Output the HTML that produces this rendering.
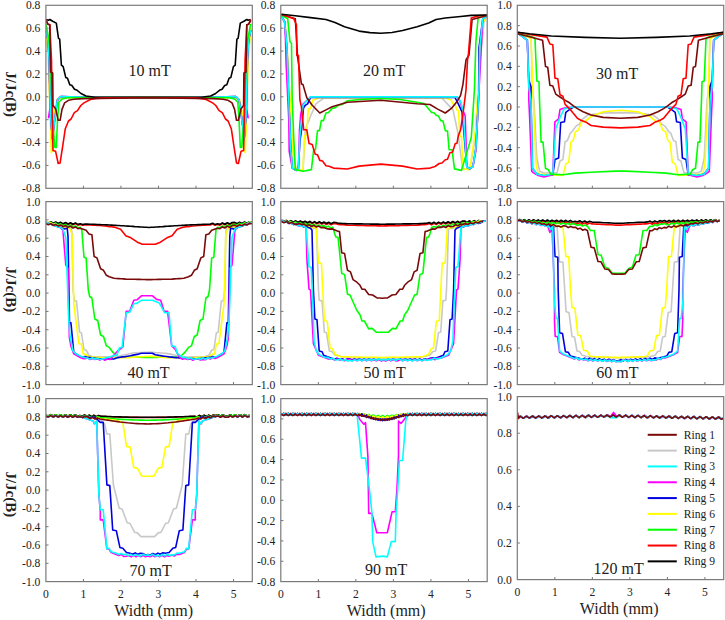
<!DOCTYPE html>
<html><head><meta charset="utf-8"><style>
html,body{margin:0;padding:0;background:#fff;width:725px;height:620px;overflow:hidden}
svg{display:block}
text{font-family:"Liberation Serif",serif;fill:#222}
.tl{font-size:11.6px}
.xl{font-size:16px}
.yl{font-size:15px;font-weight:bold}
.pl{font-size:16px}
.lg{font-size:11.6px}
.ax{stroke:#777;stroke-width:1}
.fr{fill:none;stroke:#7a7a7a;stroke-width:1.2}
.cv{fill:none;stroke-width:1.6;stroke-linejoin:round}
</style></head><body>
<svg width="725" height="620" viewBox="0 0 725 620">
<clipPath id="cp00"><rect x="45.9" y="5.3" width="206.4" height="183.0"/></clipPath>
<clipPath id="cp01"><rect x="280.8" y="5.3" width="206.4" height="183.0"/></clipPath>
<clipPath id="cp02"><rect x="517.3" y="5.3" width="206.4" height="183.0"/></clipPath>
<clipPath id="cp10"><rect x="45.9" y="201.6" width="206.4" height="183.0"/></clipPath>
<clipPath id="cp11"><rect x="280.8" y="201.6" width="206.4" height="183.0"/></clipPath>
<clipPath id="cp12"><rect x="517.3" y="201.6" width="206.4" height="183.0"/></clipPath>
<clipPath id="cp20"><rect x="45.9" y="398.6" width="206.4" height="183.0"/></clipPath>
<clipPath id="cp21"><rect x="280.8" y="398.6" width="206.4" height="183.0"/></clipPath>
<clipPath id="cp22"><rect x="517.3" y="396.6" width="206.4" height="183.0"/></clipPath>
<text x="40.4" y="192.20" class="tl" text-anchor="end">-0.8</text>
<line x1="45.9" y1="165.43" x2="48.5" y2="165.43" class="ax"/>
<text x="40.4" y="169.33" class="tl" text-anchor="end">-0.6</text>
<line x1="45.9" y1="142.55" x2="48.5" y2="142.55" class="ax"/>
<text x="40.4" y="146.45" class="tl" text-anchor="end">-0.4</text>
<line x1="45.9" y1="119.67" x2="48.5" y2="119.67" class="ax"/>
<text x="40.4" y="123.58" class="tl" text-anchor="end">-0.2</text>
<line x1="45.9" y1="96.80" x2="48.5" y2="96.80" class="ax"/>
<text x="40.4" y="100.70" class="tl" text-anchor="end">0.0</text>
<line x1="45.9" y1="73.93" x2="48.5" y2="73.93" class="ax"/>
<text x="40.4" y="77.83" class="tl" text-anchor="end">0.2</text>
<line x1="45.9" y1="51.05" x2="48.5" y2="51.05" class="ax"/>
<text x="40.4" y="54.95" class="tl" text-anchor="end">0.4</text>
<line x1="45.9" y1="28.18" x2="48.5" y2="28.18" class="ax"/>
<text x="40.4" y="32.08" class="tl" text-anchor="end">0.6</text>
<text x="40.4" y="9.20" class="tl" text-anchor="end">0.8</text>
<line x1="83.43" y1="188.3" x2="83.43" y2="185.70000000000002" class="ax"/>
<line x1="120.95" y1="188.3" x2="120.95" y2="185.70000000000002" class="ax"/>
<line x1="158.48" y1="188.3" x2="158.48" y2="185.70000000000002" class="ax"/>
<line x1="196.01" y1="188.3" x2="196.01" y2="185.70000000000002" class="ax"/>
<line x1="233.54" y1="188.3" x2="233.54" y2="185.70000000000002" class="ax"/>
<polyline clip-path="url(#cp00)" points="45.9,28.0 48.0,50.0 50.5,120.0 52.0,149.6 54.0,125.0 55.6,105.3 59.0,99.0 70.0,97.8 148.3,97.4 226.6,97.8 237.6,99.0 241.0,105.3 242.6,125.0 244.6,149.6 246.1,120.0 248.6,50.0 250.7,28.0" stroke="#c8c8c8" class="cv"/>
<polyline clip-path="url(#cp00)" points="45.9,28.0 48.5,60.0 50.5,130.0 51.3,152.5 52.7,151.0 54.2,114.0 57.1,99.5 61.4,97.6 148.3,97.4 235.2,97.6 239.5,99.5 242.4,114.0 243.9,151.0 245.3,152.5 246.1,130.0 248.1,60.0 250.7,28.0" stroke="#ffff00" class="cv"/>
<polyline clip-path="url(#cp00)" points="45.9,30.0 48.0,40.0 49.2,60.0 50.5,114.0 52.4,139.0 54.0,125.0 57.5,99.7 60.8,96.5 70.0,96.8 100.0,97.5 148.3,97.4 196.6,97.5 226.6,96.8 235.8,96.5 239.1,99.7 242.6,125.0 244.2,139.0 246.1,114.0 247.4,60.0 248.6,40.0 250.7,30.0" stroke="#0000e0" class="cv"/>
<polyline clip-path="url(#cp00)" points="45.9,30.0 48.0,40.0 49.2,60.0 50.0,108.0 48.5,117.7 50.5,114.0 52.4,139.0 54.0,125.0 57.5,99.7 60.8,96.5 70.0,96.8 100.0,97.5 148.3,97.4 196.6,97.5 226.6,96.8 235.8,96.5 239.1,99.7 242.6,125.0 244.2,139.0 246.1,114.0 248.1,117.7 246.6,108.0 247.4,60.0 248.6,40.0 250.7,30.0" stroke="#ff00ff" class="cv"/>
<polyline clip-path="url(#cp00)" points="45.9,30.0 48.0,40.0 49.2,60.0 50.5,114.0 52.4,139.0 54.0,125.0 57.5,99.7 60.8,96.5 70.0,96.8 100.0,97.5 148.3,97.4 196.6,97.5 226.6,96.8 235.8,96.5 239.1,99.7 242.6,125.0 244.2,139.0 246.1,114.0 247.4,60.0 248.6,40.0 250.7,30.0" stroke="#00ffff" class="cv"/>
<polyline clip-path="url(#cp00)" points="45.9,24.0 49.0,40.0 50.5,60.0 52.5,120.0 54.9,147.4 56.3,147.4 57.5,121.0 58.8,102.3 62.0,99.0 67.2,97.7 148.3,97.4 229.4,97.7 234.6,99.0 237.8,102.3 239.1,121.0 240.3,147.4 241.7,147.4 244.1,120.0 246.1,60.0 247.6,40.0 250.7,24.0" stroke="#00ff00" class="cv"/>
<polyline clip-path="url(#cp00)" points="45.9,19.5 48.4,20.2 49.8,19.5 52.7,21.3 56.3,23.1 58.5,38.4 59.7,39.1 61.4,65.2 63.2,66.7 65.8,77.6 67.5,78.3 69.8,84.8 71.9,85.5 74.5,89.2 76.6,89.9 81.0,93.5 86.0,96.0 95.0,97.2 148.3,97.3 201.6,97.2 210.6,96.0 215.6,93.5 220.0,89.9 222.1,89.2 224.7,85.5 226.8,84.8 229.1,78.3 230.8,77.6 233.4,66.7 235.2,65.2 236.9,39.1 238.1,38.4 240.3,23.1 243.9,21.3 246.8,19.5 248.2,20.2 250.7,19.5" stroke="#000000" class="cv"/>
<polyline clip-path="url(#cp00)" points="45.9,19.6 47.9,24.2 49.8,24.7 51.5,60.0 52.4,120.0 53.0,150.6 55.6,151.3 58.2,163.5 60.1,162.9 62.7,146.1 65.3,128.7 68.5,121.0 71.1,119.0 74.3,112.6 77.5,110.6 80.8,105.5 84.0,102.9 90.4,99.5 96.2,98.4 105.0,97.9 148.3,97.5 191.6,97.9 200.4,98.4 206.2,99.5 212.6,102.9 215.8,105.5 219.1,110.6 222.3,112.6 225.5,119.0 228.1,121.0 231.3,128.7 233.9,146.1 236.5,162.9 238.4,163.5 241.0,151.3 243.6,150.6 244.2,120.0 245.1,60.0 246.8,24.7 248.7,24.2 250.7,19.6" stroke="#ff0000" class="cv"/>
<polyline clip-path="url(#cp00)" points="45.9,20.3 47.9,24.2 49.8,24.7 50.6,72.1 52.7,73.0 53.0,105.5 55.6,108.7 58.2,120.3 60.1,120.3 62.0,109.4 64.6,102.9 68.5,100.3 73.7,99.2 82.7,98.6 148.3,97.8 213.9,98.6 222.9,99.2 228.1,100.3 232.0,102.9 234.6,109.4 236.5,120.3 238.4,120.3 241.0,108.7 243.6,105.5 243.9,73.0 246.0,72.1 246.8,24.7 248.7,24.2 250.7,20.3" stroke="#7a0a0a" class="cv"/>
<rect x="45.9" y="5.3" width="206.4" height="183.0" class="fr"/>
<text x="128.5" y="75.8" class="pl">10 mT</text>
<text x="275.3" y="192.20" class="tl" text-anchor="end">-0.8</text>
<line x1="280.8" y1="165.43" x2="283.40000000000003" y2="165.43" class="ax"/>
<text x="275.3" y="169.33" class="tl" text-anchor="end">-0.6</text>
<line x1="280.8" y1="142.55" x2="283.40000000000003" y2="142.55" class="ax"/>
<text x="275.3" y="146.45" class="tl" text-anchor="end">-0.4</text>
<line x1="280.8" y1="119.67" x2="283.40000000000003" y2="119.67" class="ax"/>
<text x="275.3" y="123.58" class="tl" text-anchor="end">-0.2</text>
<line x1="280.8" y1="96.80" x2="283.40000000000003" y2="96.80" class="ax"/>
<text x="275.3" y="100.70" class="tl" text-anchor="end">0.0</text>
<line x1="280.8" y1="73.93" x2="283.40000000000003" y2="73.93" class="ax"/>
<text x="275.3" y="77.83" class="tl" text-anchor="end">0.2</text>
<line x1="280.8" y1="51.05" x2="283.40000000000003" y2="51.05" class="ax"/>
<text x="275.3" y="54.95" class="tl" text-anchor="end">0.4</text>
<line x1="280.8" y1="28.18" x2="283.40000000000003" y2="28.18" class="ax"/>
<text x="275.3" y="32.08" class="tl" text-anchor="end">0.6</text>
<text x="275.3" y="9.20" class="tl" text-anchor="end">0.8</text>
<line x1="318.33" y1="188.3" x2="318.33" y2="185.70000000000002" class="ax"/>
<line x1="355.85" y1="188.3" x2="355.85" y2="185.70000000000002" class="ax"/>
<line x1="393.38" y1="188.3" x2="393.38" y2="185.70000000000002" class="ax"/>
<line x1="430.91" y1="188.3" x2="430.91" y2="185.70000000000002" class="ax"/>
<line x1="468.44" y1="188.3" x2="468.44" y2="185.70000000000002" class="ax"/>
<polyline clip-path="url(#cp01)" points="281.4,16.0 285.0,22.0 288.0,60.0 292.0,150.0 296.0,168.0 303.0,170.4 305.3,129.8 310.6,116.0 316.0,103.8 324.4,97.7 440.0,97.7 442.3,98.4 453.0,109.9 457.6,131.3 462.9,169.6 470.0,168.0 475.0,140.0 480.0,60.0 484.0,22.0 487.4,16.0" stroke="#c8c8c8" class="cv"/>
<polyline clip-path="url(#cp01)" points="281.4,16.0 285.0,22.0 288.5,70.0 293.8,166.6 299.9,170.4 303.0,169.6 304.5,135.9 306.5,135.5 308.3,109.1 310.5,108.5 312.9,100.0 315.0,99.5 318.3,97.7 446.0,97.7 448.4,99.2 451.0,99.8 453.0,103.8 455.0,104.2 456.8,109.9 458.5,110.5 459.9,135.9 461.5,136.5 462.9,168.9 469.8,169.6 475.9,126.8 479.0,70.0 483.0,22.0 487.4,16.0" stroke="#ffff00" class="cv"/>
<polyline clip-path="url(#cp01)" points="281.4,16.0 284.6,21.8 286.9,47.9 288.4,90.0 290.7,148.2 292.3,168.1 296.1,170.4 298.4,168.1 300.0,140.0 301.4,131.3 303.5,108.0 305.3,105.3 307.6,103.8 310.6,97.5 455.0,97.5 458.3,103.8 462.0,112.0 463.7,129.8 466.8,166.6 469.8,168.9 472.9,166.6 475.9,148.2 479.0,90.0 479.0,47.9 482.8,18.8 487.4,16.0" stroke="#0000e0" class="cv"/>
<polyline clip-path="url(#cp01)" points="281.4,16.0 284.6,21.8 285.5,40.0 286.1,63.2 288.8,120.0 289.2,151.3 292.3,168.1 296.1,170.4 298.4,168.1 299.5,130.0 300.7,114.5 303.0,104.0 306.8,100.7 310.6,96.9 457.0,97.0 459.9,100.7 462.0,108.0 465.2,116.0 466.8,166.6 469.8,168.9 472.9,166.6 475.9,150.5 479.0,90.0 480.5,63.2 482.8,18.8 487.4,16.0" stroke="#ff00ff" class="cv"/>
<polyline clip-path="url(#cp01)" points="281.4,16.0 284.6,21.8 286.9,46.3 288.4,90.0 290.7,148.2 292.3,168.1 296.1,170.4 298.4,168.1 299.9,135.9 303.0,105.3 306.8,100.7 310.6,96.9 457.6,96.9 460.6,101.5 462.9,109.9 466.8,166.6 469.8,168.9 472.9,166.6 475.9,148.2 479.0,90.0 479.8,46.3 482.8,18.8 487.4,16.0" stroke="#00ffff" class="cv"/>
<polyline clip-path="url(#cp01)" points="281.4,15.0 287.7,18.8 290.0,41.8 291.5,43.3 292.2,100.0 293.8,139.0 295.3,169.6 303.0,171.2 311.4,169.6 313.7,149.7 315.5,149.7 317.5,130.6 319.5,130.6 321.3,120.6 323.5,120.6 325.9,113.0 328.5,112.5 332.1,108.4 335.0,107.8 338.7,105.1 342.0,104.5 347.4,100.8 360.0,99.5 380.8,98.5 400.0,99.5 417.1,102.2 424.0,103.5 427.0,107.0 431.6,112.4 434.0,112.8 436.1,115.3 438.5,116.0 440.7,120.6 443.0,121.0 445.3,130.6 447.5,131.0 449.1,149.7 452.0,149.7 454.5,168.9 461.4,170.4 471.3,137.5 474.4,90.0 475.9,41.8 478.2,17.3 487.4,15.0" stroke="#00ff00" class="cv"/>
<polyline clip-path="url(#cp01)" points="281.4,14.5 295.3,18.8 297.6,57.0 301.4,83.9 303.0,84.6 306.8,97.7 312.2,105.3 319.8,113.0 326.0,109.9 332.1,106.8 347.4,102.2 380.8,100.2 417.1,103.7 430.0,104.5 437.7,109.1 445.3,113.0 451.4,108.4 457.6,100.7 460.6,95.4 462.9,84.6 466.0,60.0 469.0,55.0 472.1,19.5 487.4,15.5" stroke="#7a0a0a" class="cv"/>
<polyline clip-path="url(#cp01)" points="281.5,14.2 293.8,18.8 296.5,25.0 296.8,55.5 298.5,55.5 299.9,100.0 301.4,106.8 303.7,129.8 306.8,129.8 309.1,143.6 312.2,144.4 315.2,154.3 317.5,154.8 319.8,160.4 322.5,161.0 326.0,165.8 329.0,166.3 333.6,168.1 347.4,169.0 359.0,166.1 380.8,164.1 402.6,166.1 417.1,169.0 430.0,168.1 435.0,166.5 439.2,163.5 442.0,163.0 445.3,159.7 447.5,159.2 449.9,152.8 452.5,152.3 455.3,143.6 457.0,143.2 458.3,135.9 460.6,129.8 463.7,108.4 466.0,90.0 467.5,60.1 468.3,55.5 471.3,18.0 480.0,15.5 487.4,15.5" stroke="#ff0000" class="cv"/>
<polyline clip-path="url(#cp01)" points="281.5,14.2 295.3,15.7 310.6,17.6 326.0,19.5 335.0,22.5 344.5,26.8 359.0,31.1 370.0,32.6 380.8,33.2 392.0,32.5 402.6,30.5 417.1,26.8 428.7,23.0 436.1,19.5 445.3,18.0 460.6,16.5 471.3,15.4 487.4,15.0" stroke="#000000" class="cv"/>
<rect x="280.8" y="5.3" width="206.4" height="183.0" class="fr"/>
<text x="363.0" y="76.1" class="pl">20 mT</text>
<text x="511.79999999999995" y="192.20" class="tl" text-anchor="end">-0.8</text>
<line x1="517.3" y1="167.97" x2="519.9" y2="167.97" class="ax"/>
<text x="511.79999999999995" y="171.87" class="tl" text-anchor="end">-0.6</text>
<line x1="517.3" y1="147.63" x2="519.9" y2="147.63" class="ax"/>
<text x="511.79999999999995" y="151.53" class="tl" text-anchor="end">-0.4</text>
<line x1="517.3" y1="127.30" x2="519.9" y2="127.30" class="ax"/>
<text x="511.79999999999995" y="131.20" class="tl" text-anchor="end">-0.2</text>
<line x1="517.3" y1="106.97" x2="519.9" y2="106.97" class="ax"/>
<text x="511.79999999999995" y="110.87" class="tl" text-anchor="end">0.0</text>
<line x1="517.3" y1="86.63" x2="519.9" y2="86.63" class="ax"/>
<text x="511.79999999999995" y="90.53" class="tl" text-anchor="end">0.2</text>
<line x1="517.3" y1="66.30" x2="519.9" y2="66.30" class="ax"/>
<text x="511.79999999999995" y="70.20" class="tl" text-anchor="end">0.4</text>
<line x1="517.3" y1="45.97" x2="519.9" y2="45.97" class="ax"/>
<text x="511.79999999999995" y="49.87" class="tl" text-anchor="end">0.6</text>
<line x1="517.3" y1="25.63" x2="519.9" y2="25.63" class="ax"/>
<text x="511.79999999999995" y="29.53" class="tl" text-anchor="end">0.8</text>
<text x="511.79999999999995" y="9.20" class="tl" text-anchor="end">1.0</text>
<line x1="554.83" y1="188.3" x2="554.83" y2="185.70000000000002" class="ax"/>
<line x1="592.35" y1="188.3" x2="592.35" y2="185.70000000000002" class="ax"/>
<line x1="629.88" y1="188.3" x2="629.88" y2="185.70000000000002" class="ax"/>
<line x1="667.41" y1="188.3" x2="667.41" y2="185.70000000000002" class="ax"/>
<line x1="704.94" y1="188.3" x2="704.94" y2="185.70000000000002" class="ax"/>
<polyline clip-path="url(#cp02)" points="517.5,33.0 531.0,38.2 532.5,90.0 533.9,100.0 536.8,158.1 539.7,171.2 544.0,173.0 557.1,172.6 560.0,161.0 562.9,159.5 565.1,141.4 567.3,140.7 570.2,133.4 572.4,131.2 576.0,126.1 579.6,124.0 581.5,119.8 587.9,115.0 603.0,113.0 620.5,112.6 638.0,113.0 653.1,115.0 659.5,119.8 661.4,124.0 665.0,126.1 668.6,131.2 670.8,133.4 673.7,140.7 675.9,141.4 678.1,159.5 681.0,161.0 683.9,172.6 697.0,173.0 701.3,171.2 704.2,158.1 707.1,100.0 708.5,90.0 710.0,38.2 723.5,33.0" stroke="#c8c8c8" class="cv"/>
<polyline clip-path="url(#cp02)" points="517.5,33.0 531.0,38.2 533.2,100.0 536.1,163.9 538.2,174.1 562.9,175.5 565.8,163.9 568.7,162.4 570.9,142.1 573.1,140.7 575.3,131.9 578.2,130.3 581.8,121.8 584.7,121.5 591.1,116.6 603.2,111.8 620.5,110.2 637.8,111.8 649.9,116.6 656.3,121.5 659.2,121.8 662.8,130.3 665.7,131.9 667.9,140.7 670.1,142.1 672.3,162.4 675.2,163.9 678.1,175.5 702.8,174.1 704.9,163.9 707.8,100.0 710.0,38.2 723.5,33.0" stroke="#ffff00" class="cv"/>
<polyline clip-path="url(#cp02)" points="517.5,33.0 523.7,37.4 527.3,40.3 528.8,80.0 531.0,86.8 531.0,100.0 532.4,168.3 536.8,174.1 544.0,175.8 552.8,174.8 555.0,159.5 558.6,158.1 560.7,122.5 564.4,121.8 565.8,112.3 568.7,110.2 573.1,107.3 620.5,107.3 667.9,107.3 672.3,110.2 675.2,112.3 676.6,121.8 680.3,122.5 682.4,158.1 686.0,159.5 688.2,174.8 697.0,175.8 704.2,174.1 708.6,168.3 710.0,100.0 710.0,86.8 712.2,80.0 713.7,40.3 717.3,37.4 723.5,33.0" stroke="#0000e0" class="cv"/>
<polyline clip-path="url(#cp02)" points="517.5,33.0 523.7,37.4 527.3,40.3 528.8,86.8 528.8,100.0 529.5,114.5 531.7,171.2 533.2,172.6 538.2,175.5 544.0,177.0 552.8,174.8 554.9,121.8 558.6,118.9 560.0,109.4 564.4,108.0 570.2,107.3 620.5,107.3 670.8,107.3 676.6,108.0 681.0,109.4 682.4,118.9 686.1,121.8 688.2,174.8 697.0,177.0 702.8,175.5 707.8,172.6 709.3,171.2 711.5,114.5 712.2,100.0 712.2,86.8 713.7,40.3 717.3,37.4 723.5,33.0" stroke="#ff00ff" class="cv"/>
<polyline clip-path="url(#cp02)" points="517.5,33.0 523.7,37.4 527.3,40.3 528.8,86.8 531.0,100.0 532.4,168.3 536.8,174.1 544.0,175.5 552.8,174.1 555.7,129.0 560.0,117.4 564.4,108.7 573.1,107.0 620.5,107.0 667.9,107.0 676.6,108.7 681.0,117.4 685.3,129.0 688.2,174.1 697.0,175.5 704.2,174.1 708.6,168.3 710.0,100.0 712.2,86.8 713.7,40.3 717.3,37.4 723.5,33.0" stroke="#00ffff" class="cv"/>
<polyline clip-path="url(#cp02)" points="517.5,33.1 533.9,37.4 535.0,39.0 536.8,81.0 539.0,81.7 539.5,100.0 541.1,142.1 543.0,142.1 545.5,168.3 548.4,169.7 550.6,174.1 562.9,174.8 575.0,173.1 591.1,172.3 615.3,171.1 620.5,171.1 625.7,171.1 649.9,172.3 666.0,173.1 678.1,174.8 690.4,174.1 692.6,169.7 695.5,168.3 698.0,142.1 699.9,142.1 701.5,100.0 702.0,81.7 704.2,81.0 706.0,39.0 707.1,37.4 723.5,33.1" stroke="#00ff00" class="cv"/>
<polyline clip-path="url(#cp02)" points="517.5,33.8 529.5,36.7 542.6,40.3 545.5,66.5 547.7,67.2 549.9,85.3 552.8,86.1 555.7,94.1 560.0,97.0 564.4,99.9 569.5,102.8 573.1,105.7 577.4,108.6 583.1,111.8 591.1,115.0 603.2,117.4 620.5,118.2 637.8,117.4 649.9,115.0 657.9,111.8 663.6,108.6 667.9,105.7 671.5,102.8 676.6,99.9 681.0,97.0 685.3,94.1 688.2,86.1 691.1,85.3 693.3,67.2 695.5,66.5 698.4,40.3 711.5,36.7 723.5,33.8" stroke="#7a0a0a" class="cv"/>
<polyline clip-path="url(#cp02)" points="517.5,32.3 529.5,34.5 547.0,37.1 549.9,44.0 552.8,44.7 555.0,78.1 557.8,78.8 560.0,94.8 562.9,96.2 565.1,104.4 570.2,109.4 573.1,113.1 577.4,118.2 581.5,120.6 586.3,122.3 591.1,125.5 603.2,127.1 620.5,127.9 637.8,127.1 649.9,125.5 654.7,122.3 659.5,120.6 663.6,118.2 667.9,113.1 670.8,109.4 675.9,104.4 678.1,96.2 681.0,94.8 683.2,78.8 686.0,78.1 688.2,44.7 691.1,44.0 694.0,37.1 711.5,34.5 723.5,32.3" stroke="#ff0000" class="cv"/>
<polyline clip-path="url(#cp02)" points="517.5,32.3 529.5,33.8 551.3,36.0 585.0,37.4 620.5,38.2 656.0,37.4 689.7,36.0 711.5,33.8 723.5,32.3" stroke="#000000" class="cv"/>
<rect x="517.3" y="5.3" width="206.4" height="183.0" class="fr"/>
<text x="596.0" y="78.8" class="pl">30 mT</text>
<text x="40.4" y="388.50" class="tl" text-anchor="end">-1.0</text>
<line x1="45.9" y1="366.30" x2="48.5" y2="366.30" class="ax"/>
<text x="40.4" y="370.20" class="tl" text-anchor="end">-0.8</text>
<line x1="45.9" y1="348.00" x2="48.5" y2="348.00" class="ax"/>
<text x="40.4" y="351.90" class="tl" text-anchor="end">-0.6</text>
<line x1="45.9" y1="329.70" x2="48.5" y2="329.70" class="ax"/>
<text x="40.4" y="333.60" class="tl" text-anchor="end">-0.4</text>
<line x1="45.9" y1="311.40" x2="48.5" y2="311.40" class="ax"/>
<text x="40.4" y="315.30" class="tl" text-anchor="end">-0.2</text>
<line x1="45.9" y1="293.10" x2="48.5" y2="293.10" class="ax"/>
<text x="40.4" y="297.00" class="tl" text-anchor="end">0.0</text>
<line x1="45.9" y1="274.80" x2="48.5" y2="274.80" class="ax"/>
<text x="40.4" y="278.70" class="tl" text-anchor="end">0.2</text>
<line x1="45.9" y1="256.50" x2="48.5" y2="256.50" class="ax"/>
<text x="40.4" y="260.40" class="tl" text-anchor="end">0.4</text>
<line x1="45.9" y1="238.20" x2="48.5" y2="238.20" class="ax"/>
<text x="40.4" y="242.10" class="tl" text-anchor="end">0.6</text>
<line x1="45.9" y1="219.90" x2="48.5" y2="219.90" class="ax"/>
<text x="40.4" y="223.80" class="tl" text-anchor="end">0.8</text>
<text x="40.4" y="205.50" class="tl" text-anchor="end">1.0</text>
<line x1="83.43" y1="384.6" x2="83.43" y2="382.0" class="ax"/>
<line x1="120.95" y1="384.6" x2="120.95" y2="382.0" class="ax"/>
<line x1="158.48" y1="384.6" x2="158.48" y2="382.0" class="ax"/>
<line x1="196.01" y1="384.6" x2="196.01" y2="382.0" class="ax"/>
<line x1="233.54" y1="384.6" x2="233.54" y2="382.0" class="ax"/>
<polyline clip-path="url(#cp10)" points="45.9,223.1 48.4,223.9 50.8,222.6 53.3,224.1 55.7,222.8 58.2,224.3 60.6,223.0 63.1,224.5 65.6,223.2 68.0,224.7 70.5,223.4 72.9,224.9 75.4,223.6 77.8,225.1 80.3,224.5 82.8,225.3 85.2,224.8 87.7,224.9 90.2,225.0 92.6,225.1 95.1,225.2 97.5,225.4 100.0,225.5 102.3,225.8 104.7,226.0 107.0,226.3 109.3,226.6 111.7,226.8 114.0,227.1 120.6,229.3 125.8,235.8 130.9,237.8 137.4,242.2 142.5,244.3 145.7,244.3 148.9,244.3 152.1,244.3 155.3,244.3 160.4,242.2 166.9,237.8 172.0,235.8 177.2,229.3 183.8,227.1 186.1,226.8 188.5,226.6 190.8,226.3 193.1,226.0 195.5,225.8 197.8,225.5 200.3,225.4 202.7,225.2 205.2,225.1 207.7,225.0 210.1,224.9 212.6,224.1 215.0,225.3 217.5,224.5 220.0,225.1 222.4,223.6 224.9,224.9 227.3,223.4 229.8,224.7 232.2,223.2 234.7,223.1 237.2,224.4 239.6,222.9 242.1,224.2 244.5,222.7 247.0,224.0 249.4,222.5 251.9,223.1" stroke="#ff0000" class="cv"/>
<polyline clip-path="url(#cp10)" points="45.9,222.3 48.4,223.1 50.8,221.8 53.3,223.3 55.7,222.0 58.2,223.5 60.6,222.2 63.1,223.8 65.6,222.5 68.0,224.0 70.5,222.7 72.9,224.2 75.4,222.9 77.8,224.4 80.3,223.8 82.7,224.6 85.1,224.0 87.5,224.1 89.9,224.2 92.3,224.3 94.7,224.4 97.2,224.5 99.6,224.6 102.0,224.7 104.4,224.8 106.8,224.9 109.2,225.0 111.6,225.1 114.0,225.2 116.3,225.4 118.7,225.5 121.0,225.7 123.3,225.8 125.6,226.0 128.0,226.1 130.3,226.3 132.6,226.4 134.9,226.6 137.3,226.7 139.6,226.9 141.9,227.0 144.2,227.2 146.6,227.3 148.9,227.5 151.2,227.3 153.6,227.2 155.9,227.0 158.2,226.9 160.5,226.7 162.9,226.6 165.2,226.4 167.5,226.3 169.8,226.1 172.2,226.0 174.5,225.8 176.8,225.7 179.1,225.5 181.5,225.4 183.8,225.2 186.2,225.1 188.6,225.0 191.0,224.9 193.4,224.8 195.8,224.7 198.2,224.6 200.7,224.5 203.1,224.4 205.5,224.3 207.9,224.2 210.3,224.1 212.7,223.3 215.1,224.6 217.5,223.8 220.0,224.4 222.4,222.9 224.9,224.2 227.3,222.7 229.8,224.0 232.2,222.5 234.7,222.4 237.2,223.6 239.6,222.1 242.1,223.4 244.5,221.9 247.0,223.2 249.4,221.7 251.9,222.3" stroke="#000000" class="cv"/>
<polyline clip-path="url(#cp10)" points="45.9,222.3 48.4,223.4 50.8,222.3 53.3,224.1 55.7,223.1 58.2,224.8 60.6,223.8 63.1,225.6 65.6,224.5 68.0,226.3 70.5,225.2 72.9,227.0 75.4,226.0 77.8,227.7 80.3,227.4 81.8,229.6 84.0,257.2 86.1,257.9 88.3,290.0 89.7,296.5 91.9,298.0 94.8,319.0 97.7,320.5 100.6,335.0 103.5,336.5 106.4,345.9 109.3,347.4 113.0,352.4 118.0,357.0 120.5,357.0 122.9,357.1 125.4,357.1 127.8,357.2 130.3,357.2 132.8,357.2 135.2,357.3 137.7,357.3 140.2,357.3 142.6,357.4 145.1,357.4 147.5,357.5 150.0,357.5 152.3,357.5 154.6,357.4 156.9,357.4 159.2,357.3 161.5,357.3 163.8,357.3 166.2,357.2 168.5,357.2 170.8,357.2 173.1,357.1 175.4,357.1 177.7,357.0 180.0,357.0 184.8,352.4 188.5,347.4 191.4,345.9 194.3,336.5 197.2,335.0 200.1,320.5 203.0,319.0 205.9,298.0 208.1,296.5 209.5,290.0 211.7,257.9 213.8,257.2 216.0,229.6 217.5,227.4 220.0,227.7 222.4,226.0 224.9,227.0 227.3,225.2 229.8,226.3 232.2,224.5 234.7,224.2 237.2,225.2 239.6,223.4 242.1,224.5 244.5,222.7 247.0,223.7 249.4,222.0 251.9,222.3" stroke="#00ff00" class="cv"/>
<polyline clip-path="url(#cp10)" points="45.9,222.5 48.4,223.8 50.9,222.9 53.4,224.9 55.9,224.1 58.4,226.0 60.9,225.2 63.4,227.2 65.9,226.4 68.4,228.3 70.9,228.2 72.0,232.0 73.0,290.0 74.5,300.9 76.5,301.0 79.6,332.1 81.5,333.0 83.9,349.5 86.0,350.0 89.0,355.3 93.4,356.8 95.8,356.8 98.1,356.9 100.5,356.9 102.9,356.9 105.3,356.9 107.6,357.0 110.0,357.0 112.6,356.7 115.3,356.5 117.9,356.2 120.3,355.7 122.6,355.2 125.0,354.7 127.4,354.3 129.8,353.8 132.1,353.3 134.5,352.8 137.0,352.7 139.6,352.6 142.1,352.5 144.6,352.3 147.2,352.2 149.7,352.1 152.1,352.3 154.4,352.5 156.8,352.7 159.1,352.8 161.5,353.0 163.8,353.2 166.2,353.4 168.9,353.9 171.7,354.4 174.4,355.0 177.2,355.5 179.8,356.0 182.4,356.5 185.0,357.0 187.8,357.0 190.2,357.0 192.5,356.9 194.9,356.9 197.3,356.9 199.7,356.9 202.0,356.8 204.4,356.8 208.8,355.3 211.8,350.0 213.9,349.5 216.3,333.0 218.2,332.1 221.3,301.0 223.3,300.9 224.8,290.0 225.8,232.0 226.9,228.2 229.4,228.3 231.9,226.4 234.4,227.2 236.9,226.6 239.4,224.7 241.9,225.5 244.4,223.5 246.9,224.3 249.4,222.4 251.9,222.5" stroke="#c8c8c8" class="cv"/>
<polyline clip-path="url(#cp10)" points="45.9,222.5 48.2,222.4 50.6,222.9 53.0,224.9 55.3,224.1 57.7,226.0 60.0,225.2 62.4,227.2 64.7,226.4 67.1,228.3 69.4,228.2 72.0,234.0 73.8,303.8 78.9,343.7 81.5,344.0 83.2,353.9 86.0,354.5 89.0,356.8 91.3,356.9 93.7,357.1 96.0,357.2 98.3,357.3 100.7,357.5 103.0,357.6 105.3,357.7 107.7,357.9 110.0,358.0 112.5,357.9 115.0,357.9 117.5,357.8 120.1,357.8 122.6,357.7 125.1,357.7 127.6,357.6 130.1,357.4 132.5,357.3 135.0,357.1 137.4,357.0 139.9,356.8 142.3,356.7 144.8,356.5 147.2,356.4 149.7,356.2 152.1,356.4 154.4,356.6 156.8,356.8 159.1,357.0 161.5,357.2 163.8,357.4 166.2,357.6 168.6,357.6 171.0,357.7 173.4,357.7 175.8,357.8 178.2,357.8 180.6,357.9 183.0,357.9 185.4,358.0 187.8,358.0 190.1,357.9 192.5,357.7 194.8,357.6 197.1,357.5 199.5,357.3 201.8,357.2 204.1,357.1 206.5,356.9 208.8,356.8 211.8,354.5 214.6,353.9 216.3,344.0 218.9,343.7 224.0,303.8 225.8,234.0 228.4,228.2 230.8,226.9 233.1,227.8 235.5,225.8 237.8,226.6 240.2,224.7 242.5,225.5 244.8,223.5 247.2,224.3 249.6,222.4 251.9,222.5" stroke="#ffff00" class="cv"/>
<polyline clip-path="url(#cp10)" points="45.9,222.5 64.3,228.9 67.2,228.2 68.0,236.1 69.5,322.7 70.9,322.7 73.8,352.4 80.0,356.5 82.5,357.5 85.0,356.4 87.5,357.4 90.0,357.6 92.5,357.9 95.0,358.2 97.5,358.5 100.0,358.8 102.8,358.8 105.5,358.9 108.3,358.9 111.0,359.0 113.8,359.0 117.9,357.6 120.3,357.2 122.8,356.9 125.2,356.6 127.6,356.2 130.3,355.7 133.1,355.1 135.8,354.6 138.6,354.1 141.4,353.2 144.2,353.2 146.9,353.2 149.7,353.2 152.4,353.2 155.2,354.8 157.5,355.1 159.8,355.5 162.1,355.9 164.4,356.2 166.7,356.5 169.0,356.9 171.3,357.1 173.6,357.4 175.9,357.6 178.2,357.8 180.5,358.1 182.8,358.3 185.3,358.4 187.8,358.5 190.3,358.6 192.8,358.6 195.3,358.7 197.8,358.8 200.3,358.5 202.8,358.2 205.3,357.9 207.8,357.6 210.3,357.4 212.8,356.4 215.3,357.5 217.8,356.5 224.0,352.4 226.9,322.7 228.3,322.7 229.8,236.1 230.6,228.2 233.5,228.9 251.9,222.5" stroke="#0000e0" class="cv"/>
<polyline clip-path="url(#cp10)" points="45.9,222.5 60.0,227.0 62.9,230.3 65.8,265.2 68.0,268.0 68.5,300.0 69.4,337.9 70.9,345.9 73.8,353.9 80.3,357.5 82.7,358.5 85.1,358.8 87.5,357.8 90.0,359.5 92.4,358.4 94.8,359.4 97.3,358.7 99.9,360.1 102.4,358.8 104.9,360.2 107.5,358.8 110.0,359.5 117.9,350.7 122.8,347.2 126.2,311.4 129.7,311.4 133.8,300.3 137.2,299.7 141.4,295.8 144.2,295.8 146.9,295.8 149.7,295.8 152.4,295.8 156.6,299.4 160.7,300.3 164.1,311.4 167.6,311.4 171.7,345.9 175.2,349.3 180.0,358.0 182.6,359.2 185.2,358.3 187.8,359.5 190.3,358.8 192.9,360.2 195.4,358.8 197.9,358.7 200.5,360.1 203.0,359.4 205.4,359.8 207.8,358.1 210.2,359.1 212.7,357.4 215.1,358.5 217.5,357.5 224.0,353.9 226.9,345.9 228.4,337.9 229.3,300.0 229.8,268.0 232.0,265.2 234.9,230.3 237.8,227.0 251.9,222.5" stroke="#ff00ff" class="cv"/>
<polyline clip-path="url(#cp10)" points="45.9,222.5 60.0,227.4 62.9,228.9 65.8,237.6 68.0,300.0 68.7,320.0 70.1,336.5 73.0,351.0 76.0,353.9 81.8,356.8 87.6,358.3 90.0,359.1 92.4,357.8 94.8,359.3 97.3,358.1 99.7,359.6 102.1,359.0 117.2,354.8 119.3,347.9 122.1,347.2 126.2,312.8 129.7,312.1 133.8,303.8 137.2,303.1 141.4,300.3 144.2,300.3 146.9,300.3 149.7,300.3 152.4,300.3 159.3,303.1 164.8,312.8 169.0,312.8 171.7,345.9 175.2,346.6 177.2,353.4 182.8,357.6 185.4,357.2 188.0,358.9 190.5,357.7 193.1,359.4 195.7,359.0 198.1,358.2 200.5,359.5 203.0,357.9 205.4,359.2 207.8,357.7 210.2,358.3 216.0,356.8 221.8,353.9 224.8,351.0 227.7,336.5 229.1,320.0 229.8,300.0 232.0,237.6 234.9,228.9 237.8,227.4 251.9,222.5" stroke="#00ffff" class="cv"/>
<polyline clip-path="url(#cp10)" points="45.9,223.8 48.4,224.8 50.8,223.7 53.3,225.4 55.7,224.4 58.2,226.1 60.6,225.0 63.1,226.7 65.6,225.6 68.0,227.3 70.5,226.2 72.9,228.0 75.4,226.9 77.8,228.6 80.3,228.2 86.1,230.3 89.0,234.0 91.9,234.7 94.1,256.5 97.0,257.9 100.6,268.8 103.5,270.3 106.4,275.3 109.3,276.8 114.0,278.3 116.4,278.5 118.7,278.6 121.1,278.8 123.4,278.9 125.8,279.1 128.1,279.2 130.4,279.2 132.7,279.2 135.0,279.3 137.3,279.4 139.7,279.4 142.0,279.5 144.3,279.5 146.6,279.6 148.9,279.6 151.2,279.6 153.5,279.5 155.8,279.5 158.1,279.4 160.4,279.4 162.8,279.3 165.1,279.2 167.4,279.2 169.7,279.2 172.0,279.1 174.4,278.9 176.7,278.8 179.1,278.6 181.4,278.5 183.8,278.3 188.5,276.8 191.4,275.3 194.3,270.3 197.2,268.8 200.8,257.9 203.7,256.5 205.9,234.7 208.8,234.0 211.7,230.3 217.5,228.2 220.0,228.6 222.4,226.9 224.9,228.0 227.3,226.2 229.8,227.3 232.2,225.6 234.7,225.3 237.2,226.4 239.6,224.7 242.1,225.8 244.5,224.0 247.0,225.1 249.4,223.4 251.9,223.8" stroke="#7a0a0a" class="cv"/>
<rect x="45.9" y="201.6" width="206.4" height="183.0" class="fr"/>
<text x="127.4" y="377.6" class="pl">40 mT</text>
<text x="275.3" y="388.50" class="tl" text-anchor="end">-1.0</text>
<line x1="280.8" y1="366.30" x2="283.40000000000003" y2="366.30" class="ax"/>
<text x="275.3" y="370.20" class="tl" text-anchor="end">-0.8</text>
<line x1="280.8" y1="348.00" x2="283.40000000000003" y2="348.00" class="ax"/>
<text x="275.3" y="351.90" class="tl" text-anchor="end">-0.6</text>
<line x1="280.8" y1="329.70" x2="283.40000000000003" y2="329.70" class="ax"/>
<text x="275.3" y="333.60" class="tl" text-anchor="end">-0.4</text>
<line x1="280.8" y1="311.40" x2="283.40000000000003" y2="311.40" class="ax"/>
<text x="275.3" y="315.30" class="tl" text-anchor="end">-0.2</text>
<line x1="280.8" y1="293.10" x2="283.40000000000003" y2="293.10" class="ax"/>
<text x="275.3" y="297.00" class="tl" text-anchor="end">0.0</text>
<line x1="280.8" y1="274.80" x2="283.40000000000003" y2="274.80" class="ax"/>
<text x="275.3" y="278.70" class="tl" text-anchor="end">0.2</text>
<line x1="280.8" y1="256.50" x2="283.40000000000003" y2="256.50" class="ax"/>
<text x="275.3" y="260.40" class="tl" text-anchor="end">0.4</text>
<line x1="280.8" y1="238.20" x2="283.40000000000003" y2="238.20" class="ax"/>
<text x="275.3" y="242.10" class="tl" text-anchor="end">0.6</text>
<line x1="280.8" y1="219.90" x2="283.40000000000003" y2="219.90" class="ax"/>
<text x="275.3" y="223.80" class="tl" text-anchor="end">0.8</text>
<text x="275.3" y="205.50" class="tl" text-anchor="end">1.0</text>
<line x1="318.33" y1="384.6" x2="318.33" y2="382.0" class="ax"/>
<line x1="355.85" y1="384.6" x2="355.85" y2="382.0" class="ax"/>
<line x1="393.38" y1="384.6" x2="393.38" y2="382.0" class="ax"/>
<line x1="430.91" y1="384.6" x2="430.91" y2="382.0" class="ax"/>
<line x1="468.44" y1="384.6" x2="468.44" y2="382.0" class="ax"/>
<polyline clip-path="url(#cp11)" points="281.5,221.0 283.9,221.8 286.2,220.6 288.6,222.1 290.9,220.9 293.3,222.4 295.7,221.2 298.0,222.7 300.4,221.5 302.8,223.0 305.1,221.7 307.5,223.3 309.8,222.0 312.2,223.6 314.6,222.3 316.9,223.9 319.3,222.6 321.7,224.2 324.0,222.9 326.4,224.5 328.7,223.2 331.1,224.7 333.5,223.5 335.8,223.6 338.2,224.5 340.6,224.6 342.9,224.8 345.3,224.9 347.6,225.1 350.0,225.2 352.3,225.3 354.6,225.3 357.0,225.4 359.3,225.4 361.6,225.5 363.9,225.5 366.2,225.6 368.6,225.7 370.9,225.7 373.2,225.8 375.5,225.8 377.9,225.9 380.2,225.9 382.5,226.0 384.8,225.9 387.1,225.9 389.5,225.8 391.8,225.8 394.1,225.7 396.4,225.7 398.8,225.6 401.1,225.5 403.4,225.5 405.7,225.4 408.0,225.4 410.4,225.3 412.7,225.3 415.0,225.2 417.4,225.1 419.7,224.9 422.1,224.8 424.4,224.6 426.8,224.5 429.2,223.6 431.5,224.9 433.9,223.3 436.3,224.6 438.6,223.1 441.0,224.3 443.3,222.8 445.7,224.0 448.1,222.5 450.4,223.7 452.8,222.2 455.2,223.4 457.5,221.9 459.9,223.1 462.2,221.6 464.6,221.5 467.0,222.7 469.3,221.2 471.7,222.4 474.1,220.9 476.4,222.1 478.8,220.6 481.1,221.8 483.5,221.0" stroke="#ff0000" class="cv"/>
<polyline clip-path="url(#cp11)" points="281.5,220.9 283.9,221.7 286.2,220.4 288.6,221.9 290.9,220.6 293.3,222.1 295.7,220.8 298.0,222.3 300.4,221.0 302.8,222.5 305.1,221.2 307.5,222.7 309.8,221.4 312.2,222.9 314.6,221.6 316.9,223.1 319.3,221.8 321.7,223.3 324.0,222.0 326.4,223.5 328.7,222.2 331.1,223.7 333.5,222.4 335.8,222.5 338.2,223.3 340.6,223.4 342.9,223.5 345.3,223.6 347.6,223.7 350.0,223.8 352.3,223.8 354.6,223.9 357.0,223.9 359.3,223.9 361.6,223.9 363.9,224.0 366.2,224.0 368.6,224.0 370.9,224.1 373.2,224.1 375.5,224.1 377.9,224.1 380.2,224.2 382.5,224.2 384.8,224.2 387.1,224.1 389.5,224.1 391.8,224.1 394.1,224.1 396.4,224.0 398.8,224.0 401.1,224.0 403.4,223.9 405.7,223.9 408.0,223.9 410.4,223.9 412.7,223.8 415.0,223.8 417.4,223.7 419.7,223.6 422.1,223.5 424.4,223.4 426.8,223.3 429.2,222.5 431.5,223.8 433.9,222.3 436.3,223.6 438.6,222.1 441.0,223.4 443.3,221.9 445.7,223.2 448.1,221.7 450.4,223.0 452.8,221.5 455.2,222.8 457.5,221.3 459.9,222.6 462.2,221.1 464.6,221.0 467.0,222.3 469.3,220.8 471.7,222.1 474.1,220.6 476.4,221.9 478.8,220.4 481.1,221.7 483.5,220.9" stroke="#000000" class="cv"/>
<polyline clip-path="url(#cp11)" points="281.4,221.0 283.7,222.0 286.1,220.9 288.4,222.6 290.8,221.5 293.1,223.2 295.5,222.0 297.8,223.7 300.2,222.6 302.5,224.3 304.9,223.2 307.2,224.9 309.5,223.8 311.9,225.5 314.2,224.4 316.6,226.1 318.9,225.0 321.3,226.6 323.6,225.5 326.0,227.2 328.3,226.1 330.7,227.8 333.0,227.4 334.5,233.2 335.9,236.9 338.1,237.6 341.7,273.2 344.6,274.6 347.5,294.2 350.0,295.0 356.9,310.5 360.0,314.8 362.0,321.0 364.4,321.0 368.7,328.9 372.1,328.4 376.5,332.3 379.4,332.3 382.3,332.3 385.2,332.3 388.1,332.3 392.5,328.4 395.9,328.9 400.2,321.0 402.6,321.0 404.6,314.8 407.7,310.5 414.6,295.0 417.1,294.2 420.0,274.6 422.9,273.2 426.5,237.6 428.7,236.9 430.1,233.2 431.6,227.4 433.9,226.4 436.3,227.5 438.6,225.8 441.0,226.9 443.3,225.2 445.7,226.4 448.0,224.7 450.4,225.8 452.7,224.1 455.1,225.2 457.4,223.5 459.7,224.6 462.1,222.9 464.4,224.0 466.8,222.3 469.1,223.4 471.5,221.8 473.8,221.5 476.2,222.6 478.5,220.9 480.9,222.0 483.2,221.0" stroke="#00ff00" class="cv"/>
<polyline clip-path="url(#cp11)" points="281.4,221.0 283.7,222.2 286.1,221.3 288.4,223.2 290.7,222.4 293.1,224.3 295.4,223.4 297.8,225.3 300.1,224.4 302.4,226.3 304.8,225.4 307.1,227.4 309.4,226.5 311.8,228.4 314.1,228.2 316.5,229.0 318.5,290.0 319.2,300.2 322.1,300.9 324.3,332.1 326.5,332.8 329.4,351.0 332.0,351.5 335.2,355.3 337.7,355.8 340.1,356.3 342.6,356.8 345.1,357.3 347.5,357.8 350.0,358.3 352.3,358.3 354.6,358.3 357.0,358.3 359.3,358.3 361.6,358.3 363.9,358.3 366.2,358.3 368.6,358.3 370.9,358.3 373.2,358.3 375.5,358.3 377.9,358.3 380.2,358.3 382.5,358.3 384.8,358.3 387.1,358.3 389.5,358.3 391.8,358.3 394.1,358.3 396.4,358.3 398.8,358.3 401.1,358.3 403.4,358.3 405.7,358.3 408.0,358.3 410.4,358.3 412.7,358.3 415.0,358.3 417.5,357.8 419.9,357.3 422.4,356.8 424.9,356.3 427.3,355.8 429.8,355.3 433.0,351.5 435.6,351.0 438.5,332.8 440.7,332.1 442.9,300.9 445.8,300.2 446.5,290.0 448.5,229.0 450.9,228.2 453.2,228.4 455.6,226.5 457.9,227.4 460.2,225.4 462.6,226.3 464.9,224.4 467.2,225.3 469.6,223.4 471.9,224.3 474.3,222.4 476.6,223.2 478.9,221.3 481.3,222.2 483.6,221.0" stroke="#c8c8c8" class="cv"/>
<polyline clip-path="url(#cp11)" points="281.4,221.0 283.7,222.2 286.1,221.3 288.4,223.1 290.7,222.2 293.0,224.1 295.4,223.2 297.7,225.1 300.0,224.1 302.3,226.0 304.7,225.1 307.0,227.0 309.3,226.1 311.6,227.9 314.0,227.0 316.3,228.2 318.5,263.0 321.4,263.0 322.8,290.0 324.3,320.5 327.2,321.2 330.1,348.1 332.3,348.8 335.2,354.6 341.0,356.8 343.4,356.8 345.8,356.9 348.2,356.9 350.6,357.0 353.0,357.0 355.4,357.0 357.8,357.1 360.2,357.1 362.6,357.2 365.0,357.2 367.4,357.3 369.8,357.3 372.2,357.3 374.6,357.4 377.0,357.4 379.4,357.5 381.8,357.5 384.2,357.5 386.6,357.4 389.0,357.4 391.4,357.3 393.8,357.3 396.2,357.3 398.6,357.2 401.0,357.2 403.4,357.1 405.8,357.1 408.2,357.0 410.6,357.0 413.0,357.0 415.4,356.9 417.8,356.9 420.2,356.8 422.6,356.8 428.4,354.6 431.3,348.8 433.5,348.1 436.4,321.2 439.3,320.5 440.8,290.0 442.2,263.0 445.1,263.0 447.3,228.2 449.6,228.4 452.0,226.5 454.3,227.5 456.6,225.6 458.9,226.5 461.3,224.6 463.6,225.5 465.9,223.7 468.2,224.6 470.6,222.7 472.9,223.6 475.2,221.7 477.5,222.7 479.9,220.8 482.2,221.0" stroke="#ffff00" class="cv"/>
<polyline clip-path="url(#cp11)" points="281.4,221.0 283.8,222.3 286.3,221.5 288.7,223.4 291.2,222.6 293.6,224.6 296.1,223.8 298.5,225.8 301.0,225.0 303.4,226.9 305.9,226.1 308.3,227.4 310.5,228.2 312.0,230.3 313.4,290.0 314.9,319.0 317.0,319.8 319.2,351.0 322.1,351.7 323.6,355.3 330.8,358.0 333.9,359.2 336.9,358.3 340.0,359.5 342.4,358.8 344.8,360.2 347.2,358.9 349.7,358.9 352.1,360.3 354.5,358.9 356.9,360.3 359.3,358.9 361.8,360.3 364.2,359.0 366.6,360.4 369.0,359.0 371.4,360.4 373.8,359.0 376.2,360.4 378.7,359.1 381.1,360.5 383.5,359.8 385.9,360.5 388.3,359.1 390.8,360.4 393.2,359.0 395.6,360.4 398.0,360.4 400.4,359.0 402.8,360.4 405.2,358.9 407.7,360.3 410.1,358.9 412.5,360.3 414.9,358.9 417.3,360.3 419.8,358.9 422.2,360.2 424.6,358.8 427.0,359.5 430.1,358.3 433.1,357.8 436.2,358.0 443.4,355.3 444.9,351.7 447.8,351.0 450.0,319.8 452.1,319.0 453.6,290.0 455.0,230.3 456.5,228.2 458.7,227.4 461.1,226.1 463.6,226.9 466.0,225.0 468.5,225.8 470.9,223.8 473.4,224.6 475.8,222.6 478.3,223.4 480.7,222.9 483.2,220.9 485.6,221.0" stroke="#0000e0" class="cv"/>
<polyline clip-path="url(#cp11)" points="281.4,221.0 304.0,226.7 306.1,227.4 306.9,259.4 309.0,289.1 310.5,290.0 313.4,343.7 315.6,348.8 318.5,355.3 326.5,358.3 329.2,359.3 331.9,358.3 334.6,360.0 337.3,359.0 340.0,360.0 342.4,359.3 344.8,360.7 347.2,359.3 349.7,359.3 352.1,360.8 354.5,359.4 356.9,360.8 359.3,359.4 361.8,360.8 364.2,359.4 366.6,360.8 369.0,359.4 371.4,360.8 373.8,359.5 376.2,360.9 378.7,359.5 381.1,360.9 383.5,360.2 385.9,360.9 388.3,359.5 390.8,360.9 393.2,359.5 395.6,360.8 398.0,360.8 400.4,359.4 402.8,360.8 405.2,359.4 407.7,360.8 410.1,359.4 412.5,360.8 414.9,359.4 417.3,360.7 419.8,359.3 422.2,360.7 424.6,359.3 427.0,360.0 429.7,359.0 432.4,358.6 435.1,359.7 437.8,357.9 440.5,358.3 448.5,355.3 451.4,348.8 453.6,343.7 456.5,290.0 458.0,289.1 460.1,259.4 460.9,227.4 463.0,226.7 485.6,221.0" stroke="#ff00ff" class="cv"/>
<polyline clip-path="url(#cp11)" points="281.4,221.0 304.0,226.7 306.1,227.4 309.0,266.6 311.2,267.4 312.7,300.0 314.1,340.8 316.3,351.0 319.2,354.6 325.0,357.5 327.6,357.2 330.2,359.1 332.9,358.1 335.5,360.0 338.1,359.7 340.5,359.1 342.9,360.7 345.2,359.4 347.6,361.0 350.0,360.4 352.4,361.0 354.8,359.6 357.2,360.9 359.6,359.4 362.0,360.8 364.4,359.3 366.8,360.6 369.1,359.2 371.5,360.5 373.9,359.1 376.3,360.4 378.7,358.9 381.1,360.3 383.5,359.5 385.9,360.3 388.3,358.9 390.7,360.4 393.1,359.1 395.5,360.5 397.9,359.2 400.2,359.2 402.6,360.7 405.0,359.4 407.4,360.8 409.8,359.5 412.2,361.0 414.6,359.6 417.0,360.4 419.4,359.6 421.8,360.8 424.1,359.3 426.5,360.5 428.9,359.7 431.5,360.0 434.1,358.1 436.8,359.1 439.4,358.6 442.0,357.5 447.8,354.6 450.7,351.0 452.9,340.8 454.3,300.0 455.8,267.4 458.0,266.6 460.9,227.4 463.0,226.7 485.6,221.0" stroke="#00ffff" class="cv"/>
<polyline clip-path="url(#cp11)" points="281.5,221.6 284.0,222.7 286.6,221.6 289.1,223.4 291.6,222.4 294.2,224.1 296.7,224.5 299.3,223.4 301.8,224.5 304.2,224.1 306.6,225.8 309.1,224.8 311.5,226.5 313.9,225.4 316.3,227.1 318.8,226.1 321.2,227.8 323.6,227.4 326.5,228.6 329.4,229.1 332.3,228.9 337.4,231.1 339.5,231.5 341.7,252.8 344.6,253.6 347.5,270.3 350.5,271.9 353.0,279.6 356.9,282.2 360.0,285.3 362.0,289.2 364.8,289.2 368.7,294.5 372.6,295.0 377.0,297.9 379.6,298.0 382.3,298.2 385.0,298.0 387.6,297.9 392.0,295.0 395.9,294.5 399.8,289.2 402.6,289.2 404.6,285.3 407.7,282.2 411.6,279.6 414.1,271.9 417.1,270.3 420.0,253.6 422.9,252.8 425.1,231.5 427.2,231.1 432.3,228.9 435.2,229.1 438.1,227.2 441.0,227.4 443.4,226.4 445.8,227.5 448.3,225.7 450.7,226.8 453.1,226.5 455.5,224.8 458.0,225.8 460.4,224.1 462.8,224.5 465.3,223.4 467.9,224.5 470.4,222.7 473.0,223.8 475.5,222.0 478.0,223.0 480.6,221.3 483.1,221.6" stroke="#7a0a0a" class="cv"/>
<rect x="280.8" y="201.6" width="206.4" height="183.0" class="fr"/>
<text x="363.6" y="378.1" class="pl">50 mT</text>
<text x="511.79999999999995" y="388.50" class="tl" text-anchor="end">-1.0</text>
<line x1="517.3" y1="366.30" x2="519.9" y2="366.30" class="ax"/>
<text x="511.79999999999995" y="370.20" class="tl" text-anchor="end">-0.8</text>
<line x1="517.3" y1="348.00" x2="519.9" y2="348.00" class="ax"/>
<text x="511.79999999999995" y="351.90" class="tl" text-anchor="end">-0.6</text>
<line x1="517.3" y1="329.70" x2="519.9" y2="329.70" class="ax"/>
<text x="511.79999999999995" y="333.60" class="tl" text-anchor="end">-0.4</text>
<line x1="517.3" y1="311.40" x2="519.9" y2="311.40" class="ax"/>
<text x="511.79999999999995" y="315.30" class="tl" text-anchor="end">-0.2</text>
<line x1="517.3" y1="293.10" x2="519.9" y2="293.10" class="ax"/>
<text x="511.79999999999995" y="297.00" class="tl" text-anchor="end">0.0</text>
<line x1="517.3" y1="274.80" x2="519.9" y2="274.80" class="ax"/>
<text x="511.79999999999995" y="278.70" class="tl" text-anchor="end">0.2</text>
<line x1="517.3" y1="256.50" x2="519.9" y2="256.50" class="ax"/>
<text x="511.79999999999995" y="260.40" class="tl" text-anchor="end">0.4</text>
<line x1="517.3" y1="238.20" x2="519.9" y2="238.20" class="ax"/>
<text x="511.79999999999995" y="242.10" class="tl" text-anchor="end">0.6</text>
<line x1="517.3" y1="219.90" x2="519.9" y2="219.90" class="ax"/>
<text x="511.79999999999995" y="223.80" class="tl" text-anchor="end">0.8</text>
<text x="511.79999999999995" y="205.50" class="tl" text-anchor="end">1.0</text>
<line x1="554.83" y1="384.6" x2="554.83" y2="382.0" class="ax"/>
<line x1="592.35" y1="384.6" x2="592.35" y2="382.0" class="ax"/>
<line x1="629.88" y1="384.6" x2="629.88" y2="382.0" class="ax"/>
<line x1="667.41" y1="384.6" x2="667.41" y2="382.0" class="ax"/>
<line x1="704.94" y1="384.6" x2="704.94" y2="382.0" class="ax"/>
<polyline clip-path="url(#cp12)" points="517.5,220.2 519.8,219.6 522.1,221.1 524.4,219.8 526.7,221.4 529.0,220.1 531.3,221.6 533.6,220.3 535.9,221.8 538.2,220.5 540.5,222.1 542.8,220.8 545.1,222.3 547.4,221.0 549.7,222.5 552.0,221.2 554.3,222.8 556.6,221.5 558.9,223.0 561.2,221.7 563.5,223.2 565.8,221.9 568.1,223.5 570.4,222.2 572.7,223.7 575.0,223.1 577.4,223.9 579.8,222.6 582.3,224.1 584.7,222.9 587.1,224.4 589.5,223.1 592.0,223.9 594.4,224.0 596.8,224.1 599.2,224.3 601.6,224.4 604.1,224.5 606.5,224.6 608.9,224.7 611.3,224.8 613.8,225.0 616.2,225.1 618.6,225.2 621.0,225.1 623.4,225.0 625.9,224.8 628.3,224.7 630.7,224.6 633.1,224.5 635.6,224.4 638.0,224.3 640.4,224.1 642.8,224.0 645.2,223.9 647.7,223.8 650.1,223.0 652.5,224.3 654.9,222.8 657.4,224.0 659.8,222.5 662.2,223.1 664.5,222.3 666.8,223.6 669.1,222.1 671.4,223.3 673.7,221.8 676.0,223.1 678.3,221.6 680.6,222.9 682.9,221.4 685.2,222.6 687.5,221.1 689.8,222.4 692.1,220.9 694.4,222.2 696.7,220.7 699.0,221.9 701.3,220.4 703.6,221.7 705.9,220.2 708.2,221.5 710.5,220.0 712.8,221.2 715.1,219.7 717.4,221.0 719.7,220.2" stroke="#ff0000" class="cv"/>
<polyline clip-path="url(#cp12)" points="517.5,220.2 519.8,219.5 522.1,221.0 524.4,219.6 526.7,221.1 529.0,219.7 531.3,221.1 533.6,219.8 535.9,221.2 538.2,219.9 540.5,221.3 542.8,219.9 545.1,221.4 547.4,220.0 549.7,221.5 552.0,220.1 554.3,221.5 556.6,220.2 558.9,221.6 561.2,220.3 563.5,221.7 565.8,220.3 568.1,221.8 570.4,220.4 572.7,221.9 575.0,221.2 577.4,222.0 579.8,220.7 582.3,222.3 584.7,221.0 587.1,222.5 589.5,221.2 592.0,222.1 594.4,222.2 596.8,222.3 599.2,222.4 601.6,222.5 604.1,222.7 606.5,222.8 608.9,222.9 611.3,223.0 613.8,223.2 616.2,223.3 618.6,223.4 621.0,223.3 623.4,223.2 625.9,223.0 628.3,222.9 630.7,222.8 633.1,222.7 635.6,222.5 638.0,222.4 640.4,222.3 642.8,222.2 645.2,222.1 647.7,221.9 650.1,221.1 652.5,222.4 654.9,220.9 657.4,222.1 659.8,220.6 662.2,221.2 664.5,220.5 666.8,221.8 669.1,220.4 671.4,221.7 673.7,220.3 676.0,221.7 678.3,220.2 680.6,221.6 682.9,220.1 685.2,221.5 687.5,220.1 689.8,221.4 692.1,220.0 694.4,221.3 696.7,219.9 699.0,221.3 701.3,219.8 703.6,221.2 705.9,219.7 708.2,221.1 710.5,219.7 712.8,221.0 715.1,219.6 717.4,220.9 719.7,220.2" stroke="#000000" class="cv"/>
<polyline clip-path="url(#cp12)" points="517.5,220.3 519.9,219.8 522.3,221.4 524.7,220.2 527.1,221.8 529.5,220.6 532.0,222.2 534.4,221.0 536.8,222.6 539.2,221.4 541.6,223.0 544.0,222.5 546.4,223.3 548.8,222.1 551.2,223.6 553.5,222.4 555.9,223.9 558.3,222.6 560.7,224.2 563.1,222.9 565.5,224.4 567.8,223.2 570.2,224.7 572.6,223.5 575.0,224.3 577.5,225.4 580.0,224.4 582.4,226.1 584.9,225.1 587.4,226.2 590.5,230.5 594.2,230.5 598.0,254.7 601.1,255.0 604.8,267.1 608.5,268.4 612.2,273.1 615.4,273.2 618.6,273.3 621.8,273.2 625.0,273.1 628.7,268.4 632.4,267.1 636.1,255.0 639.2,254.7 643.0,230.5 646.7,230.5 649.8,226.2 652.3,226.5 654.8,224.7 657.2,225.8 659.7,224.0 662.2,224.3 664.6,223.5 667.0,224.7 669.4,224.6 671.7,223.0 674.1,224.3 676.5,222.8 678.9,224.0 681.3,222.5 683.7,223.8 686.0,222.2 688.4,223.5 690.8,221.9 693.2,222.5 695.6,221.6 698.0,222.8 700.4,221.2 702.8,222.4 705.2,220.8 707.7,222.0 710.1,220.4 712.5,221.6 714.9,220.0 717.3,221.2 719.7,220.3" stroke="#00ff00" class="cv"/>
<polyline clip-path="url(#cp12)" points="517.5,220.5 519.8,220.2 522.2,221.9 524.5,220.9 526.8,222.7 529.1,221.6 531.5,223.4 533.8,222.4 536.1,224.1 538.5,223.1 540.8,224.8 543.1,223.8 545.5,225.6 547.8,224.5 550.1,226.3 552.4,225.3 554.8,227.0 557.1,226.7 559.3,261.6 562.9,262.3 564.7,290.0 566.1,311.8 569.0,312.5 572.0,336.5 574.5,337.0 577.0,351.0 579.5,351.5 582.1,355.3 587.9,356.8 590.3,356.9 592.6,357.0 595.0,357.1 597.3,357.2 599.7,357.3 602.1,357.4 604.4,357.4 606.8,357.5 609.2,357.6 611.5,357.7 613.9,357.8 616.2,357.9 618.6,358.0 621.0,357.9 623.3,357.8 625.7,357.7 628.0,357.6 630.4,357.5 632.8,357.4 635.1,357.4 637.5,357.3 639.9,357.2 642.2,357.1 644.6,357.0 646.9,356.9 649.3,356.8 655.1,355.3 657.7,351.5 660.2,351.0 662.7,337.0 665.2,336.5 668.2,312.5 671.1,311.8 672.5,290.0 674.3,262.3 677.9,261.6 680.1,226.7 682.4,225.6 684.8,226.7 687.1,224.9 689.4,225.9 691.7,224.2 694.1,225.2 696.4,223.4 698.7,224.5 701.1,222.7 703.4,223.8 705.7,222.0 708.1,223.0 710.4,221.3 712.7,222.3 715.0,220.5 717.4,221.6 719.7,220.5" stroke="#c8c8c8" class="cv"/>
<polyline clip-path="url(#cp12)" points="517.5,220.5 519.9,220.1 522.3,221.9 524.7,220.8 527.1,222.5 529.4,221.4 531.8,223.2 534.2,222.1 536.6,223.8 539.0,222.7 541.4,224.5 543.8,223.4 546.2,225.1 548.6,224.0 551.0,225.8 553.3,224.7 555.7,226.4 558.1,225.3 560.5,227.1 562.9,226.7 565.8,256.5 568.7,256.5 570.5,290.0 572.0,307.4 574.9,308.2 577.8,335.0 580.7,335.7 583.6,350.3 587.2,351.0 590.1,356.1 592.7,356.5 595.2,356.8 597.5,356.9 599.9,356.9 602.2,357.0 604.6,357.1 606.9,357.1 609.2,357.2 611.6,357.3 613.9,357.4 616.3,357.4 618.6,357.5 620.9,357.4 623.3,357.4 625.6,357.3 628.0,357.2 630.3,357.1 632.6,357.1 635.0,357.0 637.3,356.9 639.7,356.9 642.0,356.8 644.5,356.5 647.1,356.1 650.0,351.0 653.6,350.3 656.5,335.7 659.4,335.0 662.3,308.2 665.2,307.4 666.7,290.0 668.5,256.5 671.4,256.5 674.3,226.7 676.7,225.7 679.1,226.7 681.5,225.0 683.9,226.1 686.2,224.4 688.6,225.4 691.0,223.7 693.4,224.8 695.8,223.1 698.2,224.1 700.6,222.4 703.0,223.5 705.4,221.8 707.8,222.8 710.1,221.1 712.5,222.2 714.9,220.5 717.3,221.5 719.7,220.5" stroke="#ffff00" class="cv"/>
<polyline clip-path="url(#cp12)" points="517.5,220.5 519.9,220.2 522.3,222.0 524.7,221.0 527.1,222.9 529.5,221.9 531.9,223.7 534.3,222.7 536.7,224.5 539.1,223.5 541.5,225.3 543.9,224.3 546.3,226.2 548.7,225.2 551.1,227.0 553.5,226.7 555.0,256.5 557.8,257.2 558.2,290.0 559.6,332.8 562.5,333.6 565.4,351.7 568.3,352.4 570.5,356.1 580.0,358.5 582.4,359.3 584.8,358.1 587.2,359.6 589.6,358.3 592.1,359.8 594.5,358.6 596.9,360.1 599.3,358.8 601.7,360.3 604.1,359.1 606.5,360.6 609.0,359.3 611.4,360.8 613.8,359.6 616.2,361.1 618.6,360.5 621.0,359.7 623.4,360.9 625.8,359.4 628.2,360.7 630.7,359.2 633.1,360.4 635.5,358.9 637.9,360.2 640.3,358.7 642.7,359.9 645.1,358.4 647.6,359.7 650.0,358.2 652.4,359.4 654.8,357.9 657.2,358.5 666.7,356.1 668.9,352.4 671.8,351.7 674.7,333.6 677.6,332.8 679.0,290.0 679.4,257.2 682.2,256.5 683.7,226.7 686.1,225.6 688.5,226.6 690.9,224.8 693.3,225.7 695.7,223.9 698.1,224.9 700.5,223.1 702.9,224.1 705.3,222.3 707.7,223.3 710.1,221.5 712.5,222.4 714.9,220.6 717.3,221.6 719.7,220.5" stroke="#0000e0" class="cv"/>
<polyline clip-path="url(#cp12)" points="517.5,220.5 519.8,220.2 522.1,222.0 524.5,221.1 526.8,222.9 529.1,221.9 531.4,223.7 533.8,222.8 536.1,224.6 538.4,223.6 540.7,225.4 543.1,224.5 545.4,226.3 547.7,226.0 549.9,232.5 552.0,228.0 554.5,290.0 554.5,320.5 555.2,336.5 557.5,336.5 559.6,352.4 563.2,354.5 572.0,358.0 574.3,359.1 576.6,358.1 579.0,359.9 581.3,358.9 583.6,360.0 585.9,359.4 588.3,360.9 590.6,359.5 592.9,361.0 595.3,359.7 597.6,361.2 599.9,359.9 602.3,361.3 604.6,360.0 606.9,361.5 609.3,360.2 611.6,361.7 613.9,360.3 616.3,361.8 618.6,361.2 620.9,361.8 623.3,360.3 625.6,360.3 627.9,361.6 630.3,360.1 632.6,361.4 634.9,359.9 637.3,361.3 639.6,359.8 641.9,361.1 644.3,359.6 646.6,360.9 648.9,359.5 651.3,360.8 653.6,360.0 655.9,360.3 658.2,358.5 660.6,359.5 662.9,357.7 665.2,358.0 674.0,354.5 677.6,352.4 679.7,336.5 682.0,336.5 682.7,320.5 682.7,290.0 685.2,228.0 687.3,232.5 689.5,226.0 691.8,224.9 694.1,225.9 696.5,224.0 698.8,225.0 701.1,223.2 703.4,224.2 705.8,222.3 708.1,223.3 710.4,221.5 712.7,222.5 715.1,220.6 717.4,221.6 719.7,220.5" stroke="#ff00ff" class="cv"/>
<polyline clip-path="url(#cp12)" points="517.5,220.5 519.9,220.2 522.3,222.0 524.6,221.1 527.0,222.9 529.4,221.9 531.8,223.7 534.1,222.8 536.5,224.6 538.9,223.6 541.3,225.4 543.6,224.5 546.0,226.3 548.4,226.0 550.6,229.6 552.8,226.0 554.2,300.0 556.0,318.3 557.5,318.5 559.6,351.0 563.2,353.9 572.0,357.5 574.3,358.6 576.6,357.7 579.0,359.5 581.3,358.6 583.6,359.7 585.9,359.1 588.3,360.6 590.6,359.3 592.9,360.8 595.3,359.5 597.6,361.0 599.9,359.7 602.3,361.2 604.6,359.9 606.9,361.4 609.3,360.1 611.6,361.6 613.9,360.3 616.3,361.8 618.6,361.2 620.9,361.8 623.3,360.3 625.6,360.2 627.9,361.5 630.3,360.0 632.6,361.3 634.9,359.8 637.3,361.1 639.6,359.6 641.9,360.9 644.3,359.4 646.6,360.7 648.9,359.2 651.3,360.5 653.6,359.7 655.9,360.0 658.2,358.1 660.6,359.1 662.9,357.2 665.2,357.5 674.0,353.9 677.6,351.0 679.7,318.5 681.2,318.3 683.0,300.0 684.4,226.0 686.6,229.6 688.8,226.0 691.2,224.9 693.6,225.9 695.9,224.0 698.3,225.0 700.7,223.2 703.1,224.2 705.4,222.3 707.8,223.3 710.2,221.5 712.6,222.5 714.9,220.6 717.3,221.6 719.7,220.5" stroke="#00ffff" class="cv"/>
<polyline clip-path="url(#cp12)" points="517.5,220.5 519.9,220.1 522.3,221.8 524.7,220.7 527.1,222.4 529.5,221.3 532.0,223.0 534.4,221.9 536.8,223.6 539.2,222.5 541.6,224.2 544.0,223.8 546.4,224.9 548.9,223.8 551.3,225.6 553.7,224.6 556.2,226.3 558.6,226.0 561.0,226.9 563.4,225.8 565.9,226.0 568.3,227.6 570.7,226.5 573.1,227.4 575.5,227.2 577.9,229.1 580.2,228.2 582.6,230.2 585.0,229.3 587.4,230.5 591.1,247.3 594.2,247.9 598.0,261.5 601.0,261.8 604.8,269.0 608.5,269.5 612.2,274.0 615.4,274.1 618.6,274.3 621.8,274.1 625.0,274.0 628.7,269.5 632.4,269.0 636.2,261.8 639.2,261.5 643.0,247.9 646.1,247.3 649.8,230.5 652.2,230.7 654.6,228.8 657.0,229.6 659.3,227.7 661.7,228.6 664.1,227.4 666.5,227.9 668.9,226.2 671.4,227.4 673.8,225.8 676.2,226.9 678.6,226.0 681.0,224.9 683.5,226.0 685.9,224.2 688.3,225.2 690.8,223.5 693.2,223.8 695.6,222.8 698.0,223.9 700.4,222.2 702.8,223.3 705.2,221.6 707.7,222.7 710.1,221.0 712.5,222.1 714.9,220.4 717.3,221.5 719.7,220.5" stroke="#7a0a0a" class="cv"/>
<rect x="517.3" y="201.6" width="206.4" height="183.0" class="fr"/>
<text x="596.2" y="377.6" class="pl">60 mT</text>
<text x="40.4" y="585.50" class="tl" text-anchor="end">-1.0</text>
<line x1="45.9" y1="563.30" x2="48.5" y2="563.30" class="ax"/>
<text x="40.4" y="567.20" class="tl" text-anchor="end">-0.8</text>
<line x1="45.9" y1="545.00" x2="48.5" y2="545.00" class="ax"/>
<text x="40.4" y="548.90" class="tl" text-anchor="end">-0.6</text>
<line x1="45.9" y1="526.70" x2="48.5" y2="526.70" class="ax"/>
<text x="40.4" y="530.60" class="tl" text-anchor="end">-0.4</text>
<line x1="45.9" y1="508.40" x2="48.5" y2="508.40" class="ax"/>
<text x="40.4" y="512.30" class="tl" text-anchor="end">-0.2</text>
<line x1="45.9" y1="490.10" x2="48.5" y2="490.10" class="ax"/>
<text x="40.4" y="494.00" class="tl" text-anchor="end">0.0</text>
<line x1="45.9" y1="471.80" x2="48.5" y2="471.80" class="ax"/>
<text x="40.4" y="475.70" class="tl" text-anchor="end">0.2</text>
<line x1="45.9" y1="453.50" x2="48.5" y2="453.50" class="ax"/>
<text x="40.4" y="457.40" class="tl" text-anchor="end">0.4</text>
<line x1="45.9" y1="435.20" x2="48.5" y2="435.20" class="ax"/>
<text x="40.4" y="439.10" class="tl" text-anchor="end">0.6</text>
<line x1="45.9" y1="416.90" x2="48.5" y2="416.90" class="ax"/>
<text x="40.4" y="420.80" class="tl" text-anchor="end">0.8</text>
<text x="40.4" y="402.50" class="tl" text-anchor="end">1.0</text>
<line x1="83.43" y1="581.6" x2="83.43" y2="579.0" class="ax"/>
<line x1="120.95" y1="581.6" x2="120.95" y2="579.0" class="ax"/>
<line x1="158.48" y1="581.6" x2="158.48" y2="579.0" class="ax"/>
<line x1="196.01" y1="581.6" x2="196.01" y2="579.0" class="ax"/>
<line x1="233.54" y1="581.6" x2="233.54" y2="579.0" class="ax"/>
<text x="45.90" y="598.1" class="tl" text-anchor="middle">0</text>
<text x="83.43" y="598.1" class="tl" text-anchor="middle">1</text>
<text x="120.95" y="598.1" class="tl" text-anchor="middle">2</text>
<text x="158.48" y="598.1" class="tl" text-anchor="middle">3</text>
<text x="196.01" y="598.1" class="tl" text-anchor="middle">4</text>
<text x="233.54" y="598.1" class="tl" text-anchor="middle">5</text>
<text x="153.70" y="615.5" class="xl" text-anchor="middle">Width (mm)</text>
<polyline clip-path="url(#cp20)" points="45.9,415.3 48.3,416.0 50.8,414.6 53.2,416.0 55.6,414.7 58.1,416.1 60.5,414.7 63.0,416.1 65.4,414.7 67.8,416.1 70.3,414.7 72.7,416.2 75.1,414.8 77.6,416.2 80.0,415.5 82.3,416.3 84.6,415.0 86.9,416.5 89.2,415.2 91.5,416.7 93.8,415.4 96.2,416.9 98.5,415.6 100.8,416.4 103.1,416.5 105.4,416.6 107.7,416.7 110.0,416.8 112.5,416.9 115.0,416.9 117.5,417.0 120.0,417.1 122.5,417.2 125.0,417.2 127.5,417.3 130.0,417.4 132.5,417.4 135.1,417.4 137.6,417.4 140.2,417.5 142.7,417.5 145.3,417.5 147.8,417.5 150.3,417.5 152.9,417.5 155.4,417.5 158.0,417.4 160.5,417.4 163.1,417.4 165.6,417.4 168.1,417.3 170.6,417.2 173.1,417.2 175.6,417.1 178.1,417.0 180.6,416.9 183.1,416.9 185.6,416.8 187.9,416.7 190.2,416.6 192.5,416.5 194.8,416.4 197.1,417.0 199.4,415.5 201.8,416.8 204.1,415.3 206.4,416.6 208.7,415.1 211.0,416.4 213.3,414.9 215.6,415.5 218.0,414.8 220.5,416.2 222.9,414.8 225.3,416.1 227.8,416.1 230.2,414.7 232.7,416.1 235.1,414.7 237.5,416.1 240.0,414.7 242.4,416.0 244.8,414.6 247.3,416.0 249.7,415.3" stroke="#ff0000" class="cv"/>
<polyline clip-path="url(#cp20)" points="45.9,415.3 48.3,416.0 50.8,414.6 53.2,416.0 55.6,414.7 58.1,416.1 60.5,414.7 63.0,416.1 65.4,414.7 67.8,416.1 70.3,414.7 72.7,416.2 75.1,414.8 77.6,416.2 80.0,415.5 82.3,416.3 84.6,415.0 86.9,416.5 89.2,415.1 91.5,416.6 93.8,415.3 96.2,416.8 98.5,415.5 100.8,416.3 103.1,416.3 105.4,416.4 107.7,416.5 110.0,416.6 112.5,416.7 115.0,416.8 117.5,416.8 120.0,416.9 122.5,417.0 125.0,417.1 127.5,417.1 130.0,417.2 132.5,417.2 135.1,417.2 137.6,417.2 140.2,417.3 142.7,417.3 145.3,417.3 147.8,417.3 150.3,417.3 152.9,417.3 155.4,417.3 158.0,417.2 160.5,417.2 163.1,417.2 165.6,417.2 168.1,417.1 170.6,417.1 173.1,417.0 175.6,416.9 178.1,416.8 180.6,416.8 183.1,416.7 185.6,416.6 187.9,416.5 190.2,416.4 192.5,416.3 194.8,416.3 197.1,416.9 199.4,415.4 201.8,416.7 204.1,415.2 206.4,416.5 208.7,415.1 211.0,416.4 213.3,414.9 215.6,415.5 218.0,414.8 220.5,416.2 222.9,414.8 225.3,416.1 227.8,416.1 230.2,414.7 232.7,416.1 235.1,414.7 237.5,416.1 240.0,414.7 242.4,416.0 244.8,414.6 247.3,416.0 249.7,415.3" stroke="#000000" class="cv"/>
<polyline clip-path="url(#cp20)" points="45.9,415.3 48.3,416.0 50.8,414.7 53.2,416.1 55.6,414.7 58.1,416.2 60.5,414.8 63.0,416.2 65.4,414.9 67.8,416.3 70.3,415.0 72.7,416.4 75.1,415.0 77.6,416.5 80.0,415.8 82.5,416.7 85.0,415.5 87.5,415.7 90.0,417.3 92.5,416.2 95.0,417.8 97.5,416.6 100.0,417.5 102.5,417.7 105.0,417.9 107.5,418.2 110.0,418.4 112.5,418.6 115.0,418.9 117.5,419.1 120.0,419.3 122.5,419.4 125.0,419.5 127.5,419.6 130.0,419.8 132.5,419.9 135.0,420.0 137.6,420.0 140.1,420.1 142.7,420.1 145.2,420.2 147.8,420.2 150.4,420.2 152.9,420.1 155.5,420.1 158.0,420.0 160.6,420.0 163.1,419.9 165.6,419.8 168.1,419.6 170.6,419.5 173.1,419.4 175.6,419.3 178.1,419.1 180.6,418.9 183.1,418.6 185.6,418.4 188.1,418.2 190.6,417.9 193.1,417.7 195.6,417.5 198.1,416.6 200.6,417.8 203.1,416.2 205.6,417.3 208.1,415.7 210.6,416.9 213.1,415.3 215.6,415.8 218.0,415.1 220.5,416.4 222.9,415.0 225.3,416.4 227.8,416.3 230.2,414.9 232.7,416.2 235.1,414.8 237.5,416.2 240.0,414.7 242.4,416.1 244.8,414.7 247.3,416.0 249.7,415.3" stroke="#00ff00" class="cv"/>
<polyline clip-path="url(#cp20)" points="45.9,416.2 48.3,416.9 50.8,415.6 53.2,417.0 55.6,415.6 58.1,417.0 60.5,415.7 63.0,417.1 65.4,415.7 67.8,417.2 70.3,415.8 72.7,417.2 75.1,415.8 77.6,417.3 80.0,416.6 82.6,417.5 85.1,417.7 87.7,416.5 90.3,418.1 92.9,416.9 95.4,418.5 98.0,418.0 104.7,423.9 106.9,434.0 109.8,434.0 113.4,485.0 119.2,508.2 122.1,509.0 127.2,522.8 130.1,523.5 134.5,532.2 137.4,532.9 141.0,536.6 144.4,536.6 147.8,536.6 151.2,536.6 154.6,536.6 158.2,532.9 161.1,532.2 165.5,523.5 168.4,522.8 173.5,509.0 176.4,508.2 182.2,485.0 185.8,434.0 188.7,434.0 190.9,423.9 197.6,418.0 200.2,418.5 202.7,416.9 205.3,418.1 207.9,416.5 210.5,417.7 213.0,416.1 215.6,416.6 218.0,415.9 220.5,417.2 222.9,415.8 225.3,417.2 227.8,417.2 230.2,415.7 232.7,417.1 235.1,415.7 237.5,417.0 240.0,415.6 242.4,417.0 244.8,415.6 247.3,416.9 249.7,416.2" stroke="#c8c8c8" class="cv"/>
<polyline clip-path="url(#cp20)" points="45.9,416.2 48.3,416.9 50.8,415.6 53.2,417.0 55.6,415.6 58.1,417.0 60.5,415.7 63.0,417.1 65.4,415.7 67.8,417.2 70.3,415.8 72.7,417.2 75.1,415.8 77.6,417.3 80.0,416.6 82.5,417.5 85.0,416.4 87.5,416.6 90.0,418.2 92.5,417.1 95.0,418.7 97.5,417.6 100.0,418.5 102.5,418.8 105.0,419.0 107.5,419.2 110.0,419.5 112.5,419.8 115.0,420.0 122.8,422.4 126.5,446.4 130.1,447.1 133.7,467.4 137.4,468.2 141.7,476.2 144.8,476.2 147.8,476.2 150.9,476.2 153.9,476.2 158.2,468.2 161.9,467.4 165.5,447.1 169.1,446.4 172.8,422.4 180.6,420.0 183.1,419.8 185.6,419.5 188.1,419.2 190.6,419.0 193.1,418.8 195.6,418.5 198.1,417.6 200.6,418.7 203.1,417.1 205.6,418.2 208.1,416.6 210.6,417.8 213.1,416.1 215.6,416.6 218.0,415.9 220.5,417.2 222.9,415.8 225.3,417.2 227.8,417.2 230.2,415.7 232.7,417.1 235.1,415.7 237.5,417.0 240.0,415.6 242.4,417.0 244.8,415.6 247.3,416.9 249.7,416.2" stroke="#ffff00" class="cv"/>
<polyline clip-path="url(#cp20)" points="45.9,416.2 48.3,416.9 50.8,415.6 53.2,417.0 55.6,415.6 58.1,417.0 60.5,415.7 63.0,417.1 65.4,415.7 67.8,417.2 70.3,415.8 72.7,417.2 75.1,415.8 77.6,417.3 80.0,416.6 82.5,417.4 85.0,416.2 87.5,416.4 90.0,417.9 92.5,416.7 95.0,417.5 100.3,422.4 103.2,422.4 106.9,484.9 109.8,485.6 112.7,530.0 116.3,530.7 119.9,547.4 122.8,548.2 126.5,552.5 130.1,553.3 132.6,554.2 135.2,552.9 137.7,554.5 140.2,553.3 142.7,553.5 145.3,555.0 147.8,554.5 150.3,555.0 152.9,553.5 155.4,554.7 157.9,553.1 160.4,554.3 163.0,552.8 165.5,553.3 169.1,552.5 172.8,548.2 175.7,547.4 179.3,530.7 182.9,530.0 185.8,485.6 188.7,484.9 192.4,422.4 195.3,422.4 200.6,417.5 203.1,416.7 205.6,417.9 208.1,416.4 210.6,417.6 213.1,416.1 215.6,416.6 218.0,415.9 220.5,417.2 222.9,415.8 225.3,417.2 227.8,417.2 230.2,415.7 232.7,417.1 235.1,415.7 237.5,417.0 240.0,415.6 242.4,417.0 244.8,415.6 247.3,416.9 249.7,416.2" stroke="#0000e0" class="cv"/>
<polyline clip-path="url(#cp20)" points="45.9,416.2 48.3,416.9 50.8,415.6 53.2,417.0 55.6,415.6 58.1,417.0 60.5,415.7 63.0,417.1 65.4,415.7 67.8,417.2 70.3,415.8 72.7,417.2 75.1,415.8 77.6,417.3 80.0,416.6 93.1,421.0 94.5,423.9 96.7,421.0 98.9,495.0 100.3,511.1 100.3,519.9 103.2,519.9 106.9,548.9 109.0,549.0 111.2,552.5 116.3,554.5 118.8,555.6 121.4,554.6 124.0,556.5 126.5,556.2 128.9,555.5 131.2,556.9 133.6,555.4 136.0,556.8 138.3,555.4 140.7,556.8 143.1,555.3 145.4,556.7 147.8,556.0 150.2,556.7 152.5,555.3 154.9,556.8 157.3,555.4 159.6,556.8 162.0,555.4 164.4,556.9 166.7,555.5 169.1,556.2 171.7,555.1 174.2,556.1 176.8,554.2 179.3,554.5 184.4,552.5 186.6,549.0 188.7,548.9 192.4,519.9 195.3,519.9 195.3,511.1 196.7,495.0 198.9,421.0 201.1,423.9 202.5,421.0 215.6,416.6 218.0,415.9 220.5,417.2 222.9,415.8 225.3,417.2 227.8,417.2 230.2,415.7 232.7,417.1 235.1,415.7 237.5,417.0 240.0,415.6 242.4,417.0 244.8,415.6 247.3,416.9 249.7,416.2" stroke="#ff00ff" class="cv"/>
<polyline clip-path="url(#cp20)" points="45.9,416.2 48.3,416.9 50.8,415.6 53.2,417.0 55.6,415.6 58.1,417.0 60.5,415.7 63.0,417.1 65.4,415.7 67.8,417.2 70.3,415.8 72.7,417.2 75.1,415.8 77.6,417.3 80.0,416.6 93.1,421.0 94.5,423.9 96.7,421.0 98.9,495.0 100.3,509.7 103.2,509.7 106.9,548.9 109.0,548.2 111.2,551.8 116.3,553.3 118.7,554.5 121.2,553.5 123.6,554.7 126.0,554.1 128.4,555.6 130.8,554.3 133.3,555.9 135.7,554.6 138.1,555.4 140.5,555.9 142.9,554.3 145.4,555.6 147.8,554.7 150.2,555.6 152.7,554.3 155.1,555.9 157.5,555.4 159.9,556.0 162.3,554.5 164.8,555.8 167.2,554.2 169.6,555.5 172.0,554.7 174.4,554.9 176.9,553.1 179.3,553.3 184.4,551.8 186.6,548.2 188.7,548.9 192.4,509.7 195.3,509.7 196.7,495.0 198.9,421.0 201.1,423.9 202.5,421.0 215.6,416.6 218.0,415.9 220.5,417.2 222.9,415.8 225.3,417.2 227.8,417.2 230.2,415.7 232.7,417.1 235.1,415.7 237.5,417.0 240.0,415.6 242.4,417.0 244.8,415.6 247.3,416.9 249.7,416.2" stroke="#00ffff" class="cv"/>
<polyline clip-path="url(#cp20)" points="45.9,416.2 48.3,416.9 50.8,415.6 53.2,417.0 55.6,415.6 58.1,417.0 60.5,415.7 63.0,417.1 65.4,415.7 67.8,417.2 70.3,415.8 72.7,417.2 75.1,415.8 77.6,417.3 80.0,416.6 82.5,417.6 85.0,416.5 87.5,416.8 90.0,418.5 92.5,417.4 95.0,419.1 97.5,418.0 100.0,419.0 102.5,419.4 105.0,419.8 107.5,420.1 110.0,420.5 112.5,420.9 115.0,421.2 117.5,421.6 120.0,422.0 122.5,422.2 125.0,422.5 127.5,422.8 130.0,423.0 132.5,423.2 135.0,423.5 137.6,423.6 140.1,423.7 142.7,423.8 145.2,423.9 147.8,424.0 150.4,423.9 152.9,423.8 155.5,423.7 158.0,423.6 160.6,423.5 163.1,423.2 165.6,423.0 168.1,422.8 170.6,422.5 173.1,422.2 175.6,422.0 178.1,421.6 180.6,421.2 183.1,420.9 185.6,420.5 188.1,420.1 190.6,419.8 193.1,419.4 195.6,419.0 198.1,418.0 200.6,419.1 203.1,417.4 205.6,418.5 208.1,416.8 210.6,417.9 213.1,416.2 215.6,416.6 218.0,415.9 220.5,417.2 222.9,415.8 225.3,417.2 227.8,417.2 230.2,415.7 232.7,417.1 235.1,415.7 237.5,417.0 240.0,415.6 242.4,417.0 244.8,415.6 247.3,416.9 249.7,416.2" stroke="#7a0a0a" class="cv"/>
<rect x="45.9" y="398.6" width="206.4" height="183.0" class="fr"/>
<text x="129.5" y="576.0" class="pl">70 mT</text>
<text x="275.3" y="585.50" class="tl" text-anchor="end">-0.8</text>
<line x1="280.8" y1="561.27" x2="283.40000000000003" y2="561.27" class="ax"/>
<text x="275.3" y="565.17" class="tl" text-anchor="end">-0.6</text>
<line x1="280.8" y1="540.93" x2="283.40000000000003" y2="540.93" class="ax"/>
<text x="275.3" y="544.83" class="tl" text-anchor="end">-0.4</text>
<line x1="280.8" y1="520.60" x2="283.40000000000003" y2="520.60" class="ax"/>
<text x="275.3" y="524.50" class="tl" text-anchor="end">-0.2</text>
<line x1="280.8" y1="500.27" x2="283.40000000000003" y2="500.27" class="ax"/>
<text x="275.3" y="504.17" class="tl" text-anchor="end">0.0</text>
<line x1="280.8" y1="479.93" x2="283.40000000000003" y2="479.93" class="ax"/>
<text x="275.3" y="483.83" class="tl" text-anchor="end">0.2</text>
<line x1="280.8" y1="459.60" x2="283.40000000000003" y2="459.60" class="ax"/>
<text x="275.3" y="463.50" class="tl" text-anchor="end">0.4</text>
<line x1="280.8" y1="439.27" x2="283.40000000000003" y2="439.27" class="ax"/>
<text x="275.3" y="443.17" class="tl" text-anchor="end">0.6</text>
<line x1="280.8" y1="418.93" x2="283.40000000000003" y2="418.93" class="ax"/>
<text x="275.3" y="422.83" class="tl" text-anchor="end">0.8</text>
<text x="275.3" y="402.50" class="tl" text-anchor="end">1.0</text>
<line x1="318.33" y1="581.6" x2="318.33" y2="579.0" class="ax"/>
<line x1="355.85" y1="581.6" x2="355.85" y2="579.0" class="ax"/>
<line x1="393.38" y1="581.6" x2="393.38" y2="579.0" class="ax"/>
<line x1="430.91" y1="581.6" x2="430.91" y2="579.0" class="ax"/>
<line x1="468.44" y1="581.6" x2="468.44" y2="579.0" class="ax"/>
<text x="280.80" y="598.1" class="tl" text-anchor="middle">0</text>
<text x="318.33" y="598.1" class="tl" text-anchor="middle">1</text>
<text x="355.85" y="598.1" class="tl" text-anchor="middle">2</text>
<text x="393.38" y="598.1" class="tl" text-anchor="middle">3</text>
<text x="430.91" y="598.1" class="tl" text-anchor="middle">4</text>
<text x="468.44" y="598.1" class="tl" text-anchor="middle">5</text>
<text x="386.20" y="615.5" class="xl" text-anchor="middle">Width (mm)</text>
<polyline clip-path="url(#cp21)" points="281.4,415.1 283.7,413.5 286.0,415.1 288.3,413.5 290.6,415.1 292.9,413.5 295.2,415.1 297.5,413.5 299.8,415.1 302.1,413.5 304.4,415.1 306.7,413.5 309.0,415.1 311.3,413.5 313.6,415.1 315.9,413.5 318.2,415.1 320.5,413.5 322.8,415.1 325.1,413.5 327.4,415.1 329.7,413.5 332.0,415.1 334.3,413.5 336.6,415.1 338.9,413.5 341.2,415.1 343.5,413.5 345.8,415.1 348.1,413.5 350.4,415.1 352.7,413.5 355.0,415.1 357.3,413.6 359.6,415.3 361.9,414.0 364.2,416.0 366.5,414.9 368.8,417.0 371.1,415.8 373.4,417.9 375.7,416.7 378.0,418.6 380.3,417.2 382.6,418.9 384.9,417.3 387.2,418.7 389.5,416.8 391.8,418.0 394.1,416.0 396.4,417.1 398.7,415.0 401.0,416.2 403.3,414.2 405.6,415.4 407.9,413.6 410.2,415.1 412.5,413.5 414.8,415.1 417.1,413.5 419.4,415.1 421.7,413.5 424.0,415.1 426.3,413.5 428.6,415.1 430.9,413.5 433.2,415.1 435.5,413.5 437.8,415.1 440.1,413.5 442.4,415.1 444.7,413.5 447.0,415.1 449.3,413.5 451.6,415.1 453.9,413.5 456.2,415.1 458.5,413.5 460.8,415.1 463.1,413.5 465.4,415.1 467.7,413.5 470.0,415.1 472.3,413.5 474.6,415.1 476.9,413.5 479.2,415.1 481.5,413.5 483.8,415.1 486.1,413.5 487.4,414.3" stroke="#ff0000" class="cv"/>
<polyline clip-path="url(#cp21)" points="281.4,415.1 283.7,413.5 286.0,415.1 288.3,413.5 290.6,415.1 292.9,413.5 295.2,415.1 297.5,413.5 299.8,415.1 302.1,413.5 304.4,415.1 306.7,413.5 309.0,415.1 311.3,413.5 313.6,415.1 315.9,413.5 318.2,415.1 320.5,413.5 322.8,415.1 325.1,413.5 327.4,415.1 329.7,413.5 332.0,415.1 334.3,413.5 336.6,415.1 338.9,413.5 341.2,415.1 343.5,413.5 345.8,415.1 348.1,413.5 350.4,415.1 352.7,413.5 355.0,415.1 357.3,413.6 359.6,415.4 361.9,414.1 364.2,416.2 366.5,415.1 368.8,417.3 371.1,416.3 373.4,418.4 375.7,417.3 378.0,419.3 380.3,417.9 382.6,419.6 384.9,417.9 387.2,419.4 389.5,417.4 391.8,418.6 394.1,416.5 396.4,417.5 398.7,415.3 401.0,416.4 403.3,414.3 405.6,415.5 407.9,413.6 410.2,415.1 412.5,413.5 414.8,415.1 417.1,413.5 419.4,415.1 421.7,413.5 424.0,415.1 426.3,413.5 428.6,415.1 430.9,413.5 433.2,415.1 435.5,413.5 437.8,415.1 440.1,413.5 442.4,415.1 444.7,413.5 447.0,415.1 449.3,413.5 451.6,415.1 453.9,413.5 456.2,415.1 458.5,413.5 460.8,415.1 463.1,413.5 465.4,415.1 467.7,413.5 470.0,415.1 472.3,413.5 474.6,415.1 476.9,413.5 479.2,415.1 481.5,413.5 483.8,415.1 486.1,413.5 487.4,414.3" stroke="#000000" class="cv"/>
<polyline clip-path="url(#cp21)" points="281.4,413.5 283.7,415.1 286.0,413.5 288.3,415.1 290.6,413.5 292.9,415.1 295.2,413.5 297.5,415.1 299.8,413.5 302.1,415.1 304.4,413.5 306.7,415.1 309.0,413.5 311.3,415.1 313.6,413.5 315.9,415.1 318.2,413.5 320.5,415.1 322.8,413.5 325.1,415.1 327.4,413.5 329.7,415.1 332.0,413.5 334.3,415.1 336.6,413.5 338.9,415.1 341.2,413.5 343.5,415.1 345.8,413.5 348.1,415.1 350.4,413.5 352.7,415.1 355.0,413.5 357.3,415.1 359.6,413.6 361.9,415.4 364.2,414.0 366.5,415.8 368.8,414.5 371.1,416.3 373.4,415.0 375.7,416.8 378.0,415.3 380.3,417.1 382.6,415.5 384.9,417.1 387.2,415.4 389.5,416.8 391.8,415.1 394.1,416.4 396.4,414.6 398.7,415.9 401.0,414.1 403.3,415.5 405.6,413.7 407.9,415.2 410.2,413.5 412.5,415.1 414.8,413.5 417.1,415.1 419.4,413.5 421.7,415.1 424.0,413.5 426.3,415.1 428.6,413.5 430.9,415.1 433.2,413.5 435.5,415.1 437.8,413.5 440.1,415.1 442.4,413.5 444.7,415.1 447.0,413.5 449.3,415.1 451.6,413.5 453.9,415.1 456.2,413.5 458.5,415.1 460.8,413.5 463.1,415.1 465.4,413.5 467.7,415.1 470.0,413.5 472.3,415.1 474.6,413.5 476.9,415.1 479.2,413.5 481.5,415.1 483.8,413.5 486.1,415.1 487.4,414.3" stroke="#00ff00" class="cv"/>
<polyline clip-path="url(#cp21)" points="281.4,413.5 283.7,415.1 286.0,413.5 288.3,415.1 290.6,413.5 292.9,415.1 295.2,413.5 297.5,415.1 299.8,413.5 302.1,415.1 304.4,413.5 306.7,415.1 309.0,413.5 311.3,415.1 313.6,413.5 315.9,415.1 318.2,413.5 320.5,415.1 322.8,413.5 325.1,415.1 327.4,413.5 329.7,415.1 332.0,413.5 334.3,415.1 336.6,413.5 338.9,415.1 341.2,413.5 343.5,415.1 345.8,413.5 348.1,415.1 350.4,413.5 352.7,415.1 355.0,413.5 357.3,415.2 359.6,413.8 361.9,415.8 364.2,414.7 366.5,416.9 368.8,415.9 371.1,418.2 373.4,417.2 375.7,419.3 378.0,418.1 380.3,420.0 382.6,418.5 384.9,420.0 387.2,418.2 389.5,419.5 391.8,417.4 394.1,418.4 396.4,416.2 398.7,417.1 401.0,414.9 403.3,416.0 405.6,413.9 407.9,415.2 410.2,413.5 412.5,415.1 414.8,413.5 417.1,415.1 419.4,413.5 421.7,415.1 424.0,413.5 426.3,415.1 428.6,413.5 430.9,415.1 433.2,413.5 435.5,415.1 437.8,413.5 440.1,415.1 442.4,413.5 444.7,415.1 447.0,413.5 449.3,415.1 451.6,413.5 453.9,415.1 456.2,413.5 458.5,415.1 460.8,413.5 463.1,415.1 465.4,413.5 467.7,415.1 470.0,413.5 472.3,415.1 474.6,413.5 476.9,415.1 479.2,413.5 481.5,415.1 483.8,413.5 486.1,415.1 487.4,414.3" stroke="#c8c8c8" class="cv"/>
<polyline clip-path="url(#cp21)" points="281.4,413.5 283.7,415.1 286.0,413.5 288.3,415.1 290.6,413.5 292.9,415.1 295.2,413.5 297.5,415.1 299.8,413.5 302.1,415.1 304.4,413.5 306.7,415.1 309.0,413.5 311.3,415.1 313.6,413.5 315.9,415.1 318.2,413.5 320.5,415.1 322.8,413.5 325.1,415.1 327.4,413.5 329.7,415.1 332.0,413.5 334.3,415.1 336.6,413.5 338.9,415.1 341.2,413.5 343.5,415.1 345.8,413.5 348.1,415.1 350.4,413.5 352.7,415.1 355.0,413.5 357.3,415.2 359.6,413.7 361.9,415.6 364.2,414.3 366.5,416.3 368.8,415.1 371.1,417.1 373.4,415.9 375.7,417.8 378.0,416.5 380.3,418.2 382.6,416.7 384.9,418.3 387.2,416.5 389.5,417.9 391.8,416.0 394.1,417.2 396.4,415.2 398.7,416.4 401.0,414.4 403.3,415.7 405.6,413.8 407.9,415.2 410.2,413.5 412.5,415.1 414.8,413.5 417.1,415.1 419.4,413.5 421.7,415.1 424.0,413.5 426.3,415.1 428.6,413.5 430.9,415.1 433.2,413.5 435.5,415.1 437.8,413.5 440.1,415.1 442.4,413.5 444.7,415.1 447.0,413.5 449.3,415.1 451.6,413.5 453.9,415.1 456.2,413.5 458.5,415.1 460.8,413.5 463.1,415.1 465.4,413.5 467.7,415.1 470.0,413.5 472.3,415.1 474.6,413.5 476.9,415.1 479.2,413.5 481.5,415.1 483.8,413.5 486.1,415.1 487.4,414.3" stroke="#ffff00" class="cv"/>
<polyline clip-path="url(#cp21)" points="281.4,415.1 283.7,413.5 286.0,415.1 288.3,413.5 290.6,415.1 292.9,413.5 295.2,415.1 297.5,413.5 299.8,415.1 302.1,413.5 304.4,415.1 306.7,413.5 309.0,415.1 311.3,413.5 313.6,415.1 315.9,413.5 318.2,415.1 320.5,413.5 322.8,415.1 325.1,413.5 327.4,415.1 329.7,413.5 332.0,415.1 334.3,413.5 336.6,415.1 338.9,413.5 341.2,415.1 343.5,413.5 345.8,415.1 348.1,413.5 350.4,415.1 352.7,413.5 355.0,415.1 357.3,413.6 359.6,415.5 361.9,414.3 364.2,416.4 366.5,415.5 368.8,417.8 371.1,416.9 373.4,419.2 375.7,418.1 378.0,420.2 380.3,418.9 382.6,420.6 384.9,418.9 387.2,420.3 389.5,418.3 391.8,419.4 394.1,417.1 396.4,418.0 398.7,415.7 401.0,416.7 403.3,414.5 405.6,415.6 407.9,413.7 410.2,415.1 412.5,413.5 414.8,415.1 417.1,413.5 419.4,415.1 421.7,413.5 424.0,415.1 426.3,413.5 428.6,415.1 430.9,413.5 433.2,415.1 435.5,413.5 437.8,415.1 440.1,413.5 442.4,415.1 444.7,413.5 447.0,415.1 449.3,413.5 451.6,415.1 453.9,413.5 456.2,415.1 458.5,413.5 460.8,415.1 463.1,413.5 465.4,415.1 467.7,413.5 470.0,415.1 472.3,413.5 474.6,415.1 476.9,413.5 479.2,415.1 481.5,413.5 483.8,415.1 486.1,413.5 487.4,414.3" stroke="#0000e0" class="cv"/>
<polyline clip-path="url(#cp21)" points="281.4,413.5 283.7,415.1 286.0,413.5 288.3,415.1 290.6,413.5 292.9,415.1 295.2,413.5 297.5,415.1 299.8,413.5 302.1,415.1 304.4,413.5 306.7,415.1 309.0,413.5 311.3,415.1 313.6,413.5 315.9,415.1 318.2,413.5 320.5,415.1 322.8,413.5 325.1,415.1 327.4,413.5 329.7,415.1 332.0,413.5 334.3,415.1 336.6,413.5 338.9,415.1 341.2,413.5 343.5,415.1 345.8,413.5 348.1,415.1 350.4,413.5 352.7,415.1 355.0,413.5 357.3,415.1 357.4,414.3 359.8,419.4 363.9,424.2 365.5,422.6 367.9,456.5 368.7,513.4 371.9,513.4 376.8,532.7 387.3,532.7 392.1,511.8 395.3,511.8 396.9,490.0 398.5,456.0 398.5,421.0 401.0,423.4 404.2,419.4 408.0,415.1 410.3,413.5 412.6,415.1 414.9,413.5 417.2,415.1 419.5,413.5 421.8,415.1 424.1,413.5 426.4,415.1 428.7,413.5 431.0,415.1 433.3,413.5 435.6,415.1 437.9,413.5 440.2,415.1 442.5,413.5 444.8,415.1 447.1,413.5 449.4,415.1 451.7,413.5 454.0,415.1 456.3,413.5 458.6,415.1 460.9,413.5 463.2,415.1 465.5,413.5 467.8,415.1 470.1,413.5 472.4,415.1 474.7,413.5 477.0,415.1 479.3,413.5 481.6,415.1 483.9,413.5 486.2,415.1 487.4,414.3" stroke="#ff00ff" class="cv"/>
<polyline clip-path="url(#cp21)" points="281.4,415.1 283.7,413.5 286.0,415.1 288.3,413.5 290.6,415.1 292.9,413.5 295.2,415.1 297.5,413.5 299.8,415.1 302.1,413.5 304.4,415.1 306.7,413.5 309.0,415.1 311.3,413.5 313.6,415.1 315.9,413.5 318.2,415.1 320.5,413.5 322.8,415.1 325.1,413.5 327.4,415.1 329.7,413.5 332.0,415.1 334.3,413.5 336.6,415.1 338.9,413.5 341.2,415.1 343.5,413.5 345.8,415.1 348.1,413.5 350.4,415.1 352.7,413.5 355.0,415.1 357.3,413.5 357.4,414.3 357.4,417.7 361.5,458.1 365.5,458.1 369.5,490.0 371.9,512.6 372.7,541.6 376.0,556.9 383.2,556.1 387.3,556.9 391.3,541.6 395.3,541.6 396.1,512.6 397.7,490.0 399.4,460.5 402.6,460.5 405.8,420.2 408.0,413.5 410.3,415.1 412.6,413.5 414.9,415.1 417.2,413.5 419.5,415.1 421.8,413.5 424.1,415.1 426.4,413.5 428.7,415.1 431.0,413.5 433.3,415.1 435.6,413.5 437.9,415.1 440.2,413.5 442.5,415.1 444.8,413.5 447.1,415.1 449.4,413.5 451.7,415.1 454.0,413.5 456.3,415.1 458.6,413.5 460.9,415.1 463.2,413.5 465.5,415.1 467.8,413.5 470.1,415.1 472.4,413.5 474.7,415.1 477.0,413.5 479.3,415.1 481.6,413.5 483.9,415.1 486.2,413.5 487.4,414.3" stroke="#00ffff" class="cv"/>
<polyline clip-path="url(#cp21)" points="281.4,414.0 283.7,415.6 286.0,414.0 288.3,415.6 290.6,414.0 292.9,415.6 295.2,414.0 297.5,415.6 299.8,414.0 302.1,415.6 304.4,414.0 306.7,415.6 309.0,414.0 311.3,415.6 313.6,414.0 315.9,415.6 318.2,414.0 320.5,415.6 322.8,414.0 325.1,415.6 327.4,414.0 329.7,415.6 332.0,414.0 334.3,415.6 336.6,414.0 338.9,415.6 341.2,414.0 343.5,415.6 345.8,414.0 348.1,415.6 350.4,414.0 352.7,415.6 355.0,414.0 357.3,415.7 359.6,414.3 361.9,416.3 364.2,415.2 366.5,417.4 368.8,416.4 371.1,418.7 373.4,417.7 375.7,419.8 378.0,418.6 380.3,420.5 382.6,419.0 384.9,420.5 387.2,418.7 389.5,420.0 391.8,417.9 394.1,418.9 396.4,416.7 398.7,417.6 401.0,415.4 403.3,416.5 405.6,414.4 407.9,415.7 410.2,414.0 412.5,415.6 414.8,414.0 417.1,415.6 419.4,414.0 421.7,415.6 424.0,414.0 426.3,415.6 428.6,414.0 430.9,415.6 433.2,414.0 435.5,415.6 437.8,414.0 440.1,415.6 442.4,414.0 444.7,415.6 447.0,414.0 449.3,415.6 451.6,414.0 453.9,415.6 456.2,414.0 458.5,415.6 460.8,414.0 463.1,415.6 465.4,414.0 467.7,415.6 470.0,414.0 472.3,415.6 474.6,414.0 476.9,415.6 479.2,414.0 481.5,415.6 483.8,414.0 486.1,415.6 487.4,414.8" stroke="#7a0a0a" class="cv"/>
<rect x="280.8" y="398.6" width="206.4" height="183.0" class="fr"/>
<text x="365.0" y="574.9" class="pl">90 mT</text>
<text x="511.79999999999995" y="583.50" class="tl" text-anchor="end">0.0</text>
<line x1="517.3" y1="543.00" x2="519.9" y2="543.00" class="ax"/>
<text x="511.79999999999995" y="546.90" class="tl" text-anchor="end">0.2</text>
<line x1="517.3" y1="506.40" x2="519.9" y2="506.40" class="ax"/>
<text x="511.79999999999995" y="510.30" class="tl" text-anchor="end">0.4</text>
<line x1="517.3" y1="469.80" x2="519.9" y2="469.80" class="ax"/>
<text x="511.79999999999995" y="473.70" class="tl" text-anchor="end">0.6</text>
<line x1="517.3" y1="433.20" x2="519.9" y2="433.20" class="ax"/>
<text x="511.79999999999995" y="437.10" class="tl" text-anchor="end">0.8</text>
<text x="511.79999999999995" y="400.50" class="tl" text-anchor="end">1.0</text>
<line x1="554.83" y1="579.6" x2="554.83" y2="577.0" class="ax"/>
<line x1="592.35" y1="579.6" x2="592.35" y2="577.0" class="ax"/>
<line x1="629.88" y1="579.6" x2="629.88" y2="577.0" class="ax"/>
<line x1="667.41" y1="579.6" x2="667.41" y2="577.0" class="ax"/>
<line x1="704.94" y1="579.6" x2="704.94" y2="577.0" class="ax"/>
<text x="517.30" y="596.1" class="tl" text-anchor="middle">0</text>
<text x="554.83" y="596.1" class="tl" text-anchor="middle">1</text>
<text x="592.35" y="596.1" class="tl" text-anchor="middle">2</text>
<text x="629.88" y="596.1" class="tl" text-anchor="middle">3</text>
<text x="667.41" y="596.1" class="tl" text-anchor="middle">4</text>
<text x="704.94" y="596.1" class="tl" text-anchor="middle">5</text>
<text x="619.20" y="614.2" class="xl" text-anchor="middle">Width (mm)</text>
<polyline clip-path="url(#cp22)" points="517.5,418.4 520.6,416.2 523.7,418.3 526.8,416.1 529.9,418.2 533.0,416.0 536.1,418.1 539.2,415.9 542.3,418.1 545.4,415.8 548.5,418.0 551.6,415.7 554.7,417.9 557.8,415.7 560.9,417.8 564.0,415.6 567.1,417.7 570.2,415.5 573.3,417.6 576.4,415.4 579.5,417.6 582.6,415.3 585.7,417.5 588.8,415.2 591.9,417.4 595.0,415.2 598.1,417.3 601.2,415.1 604.3,417.2 607.4,415.0 610.5,417.1 613.6,414.9 616.7,417.2 619.8,415.0 622.9,417.3 626.0,415.1 629.1,417.4 632.2,415.3 635.3,417.5 638.4,415.4 641.5,417.7 644.6,415.5 647.7,417.8 650.8,415.6 653.9,417.9 657.0,415.8 660.1,418.0 663.2,415.9 666.3,418.2 669.4,416.0 672.5,418.3 675.6,416.1 678.7,418.4 681.8,416.3 684.9,418.5 688.0,416.4 691.1,418.6 694.2,416.5 697.3,418.8 700.4,416.6 703.5,418.9 706.6,416.8 709.7,419.0 712.8,416.9 715.9,419.1 719.0,417.0 722.1,419.3 723.5,418.2" stroke="#0000e0" class="cv"/>
<polyline clip-path="url(#cp22)" points="517.5,418.4 520.6,416.2 523.7,418.3 526.8,416.1 529.9,418.2 533.0,416.0 536.1,418.1 539.2,415.9 542.3,418.1 545.4,415.8 548.5,418.0 551.6,415.7 554.7,417.9 557.8,415.7 560.9,417.8 564.0,415.6 567.1,417.7 570.2,415.5 573.3,417.6 576.4,415.4 579.5,417.6 582.6,415.3 585.7,417.5 588.8,415.2 591.9,417.4 595.0,415.2 598.1,417.3 601.2,415.1 604.3,417.2 607.4,415.0 610.5,416.6 613.6,412.4 616.7,416.5 619.8,415.0 622.9,417.3 626.0,415.1 629.1,417.4 632.2,415.3 635.3,417.5 638.4,415.4 641.5,417.7 644.6,415.5 647.7,417.8 650.8,415.6 653.9,417.9 657.0,415.8 660.1,418.0 663.2,415.9 666.3,418.2 669.4,416.0 672.5,418.3 675.6,416.1 678.7,418.4 681.8,416.3 684.9,418.5 688.0,416.4 691.1,418.6 694.2,416.5 697.3,418.8 700.4,416.6 703.5,418.9 706.6,416.8 709.7,419.0 712.8,416.9 715.9,419.1 719.0,417.0 722.1,419.3 723.5,418.2" stroke="#ff00ff" class="cv"/>
<polyline clip-path="url(#cp22)" points="517.5,418.4 520.6,416.2 523.7,418.3 526.8,416.1 529.9,418.2 533.0,416.0 536.1,418.1 539.2,415.9 542.3,418.1 545.4,415.8 548.5,418.0 551.6,415.7 554.7,417.9 557.8,415.7 560.9,417.8 564.0,415.6 567.1,417.7 570.2,415.5 573.3,417.6 576.4,415.4 579.5,417.6 582.6,415.3 585.7,417.5 588.8,415.2 591.9,417.4 595.0,415.2 598.1,417.3 601.2,415.1 604.3,417.2 607.4,415.0 610.5,417.7 613.6,417.4 616.7,417.8 619.8,415.0 622.9,417.3 626.0,415.1 629.1,417.4 632.2,415.3 635.3,417.5 638.4,415.4 641.5,417.7 644.6,415.5 647.7,417.8 650.8,415.6 653.9,417.9 657.0,415.8 660.1,418.0 663.2,415.9 666.3,418.2 669.4,416.0 672.5,418.3 675.6,416.1 678.7,418.4 681.8,416.3 684.9,418.5 688.0,416.4 691.1,418.6 694.2,416.5 697.3,418.8 700.4,416.6 703.5,418.9 706.6,416.8 709.7,419.0 712.8,416.9 715.9,419.1 719.0,417.0 722.1,419.3 723.5,418.2" stroke="#00ffff" class="cv"/>
<polyline clip-path="url(#cp22)" points="517.5,412.5 518.5,418.5 520.0,416.2 523.1,418.3 526.2,416.1 529.3,418.2 532.4,416.0 535.5,418.2 538.6,415.9 541.7,418.1 544.8,415.8 547.9,418.0 551.0,415.7 554.1,417.9 557.2,415.7 560.3,417.8 563.4,415.6 566.5,417.7 569.6,415.5 572.7,417.7 575.8,415.4 578.9,417.6 582.0,415.3 585.1,417.5 588.2,415.2 591.3,417.4 594.4,415.2 597.5,417.3 600.6,415.1 603.7,417.2 606.8,415.0 609.9,417.2 613.0,414.9 616.1,417.1 619.2,415.0 622.3,417.3 625.4,415.1 628.5,417.4 631.6,415.3 634.7,417.5 637.8,415.4 640.9,417.6 644.0,415.5 647.1,417.8 650.2,415.6 653.3,417.9 656.4,415.8 659.5,418.0 662.6,415.9 665.7,418.1 668.8,416.0 671.9,418.3 675.0,416.1 678.1,418.4 681.2,416.3 684.3,418.5 687.4,416.4 690.5,418.6 693.6,416.5 696.7,418.8 699.8,416.6 702.9,418.9 706.0,416.7 709.1,419.0 712.2,416.9 715.3,419.1 718.4,417.0 721.5,419.3 723.5,418.2" stroke="#7a0a0a" class="cv"/>
<rect x="517.3" y="396.6" width="206.4" height="183.0" class="fr"/>
<text x="593.5" y="574.2" class="pl">120 mT</text>
<text transform="translate(5.6,94.2) rotate(90)" class="yl" text-anchor="middle">J/Jc(B)</text>
<text transform="translate(5.6,289.3) rotate(90)" class="yl" text-anchor="middle">J/Jc(B)</text>
<text transform="translate(5.6,494.3) rotate(90)" class="yl" text-anchor="middle">J/Jc(B)</text>
<line x1="647.7" y1="434.80" x2="676.8" y2="434.80" stroke="#7a0a0a" stroke-width="2"/>
<text x="683.8" y="438.60" class="lg">Ring 1</text>
<line x1="647.7" y1="450.62" x2="676.8" y2="450.62" stroke="#c8c8c8" stroke-width="2"/>
<text x="683.8" y="454.42" class="lg">Ring 2</text>
<line x1="647.7" y1="466.44" x2="676.8" y2="466.44" stroke="#00ffff" stroke-width="2"/>
<text x="683.8" y="470.24" class="lg">Ring 3</text>
<line x1="647.7" y1="482.26" x2="676.8" y2="482.26" stroke="#ff00ff" stroke-width="2"/>
<text x="683.8" y="486.06" class="lg">Ring 4</text>
<line x1="647.7" y1="498.08" x2="676.8" y2="498.08" stroke="#0000e0" stroke-width="2"/>
<text x="683.8" y="501.88" class="lg">Ring 5</text>
<line x1="647.7" y1="513.90" x2="676.8" y2="513.90" stroke="#ffff00" stroke-width="2"/>
<text x="683.8" y="517.70" class="lg">Ring 6</text>
<line x1="647.7" y1="529.72" x2="676.8" y2="529.72" stroke="#00ff00" stroke-width="2"/>
<text x="683.8" y="533.52" class="lg">Ring 7</text>
<line x1="647.7" y1="545.54" x2="676.8" y2="545.54" stroke="#ff0000" stroke-width="2"/>
<text x="683.8" y="549.34" class="lg">Ring 8</text>
<line x1="647.7" y1="561.36" x2="676.8" y2="561.36" stroke="#000000" stroke-width="2"/>
<text x="683.8" y="565.16" class="lg">Ring 9</text>
</svg>
</body></html>
